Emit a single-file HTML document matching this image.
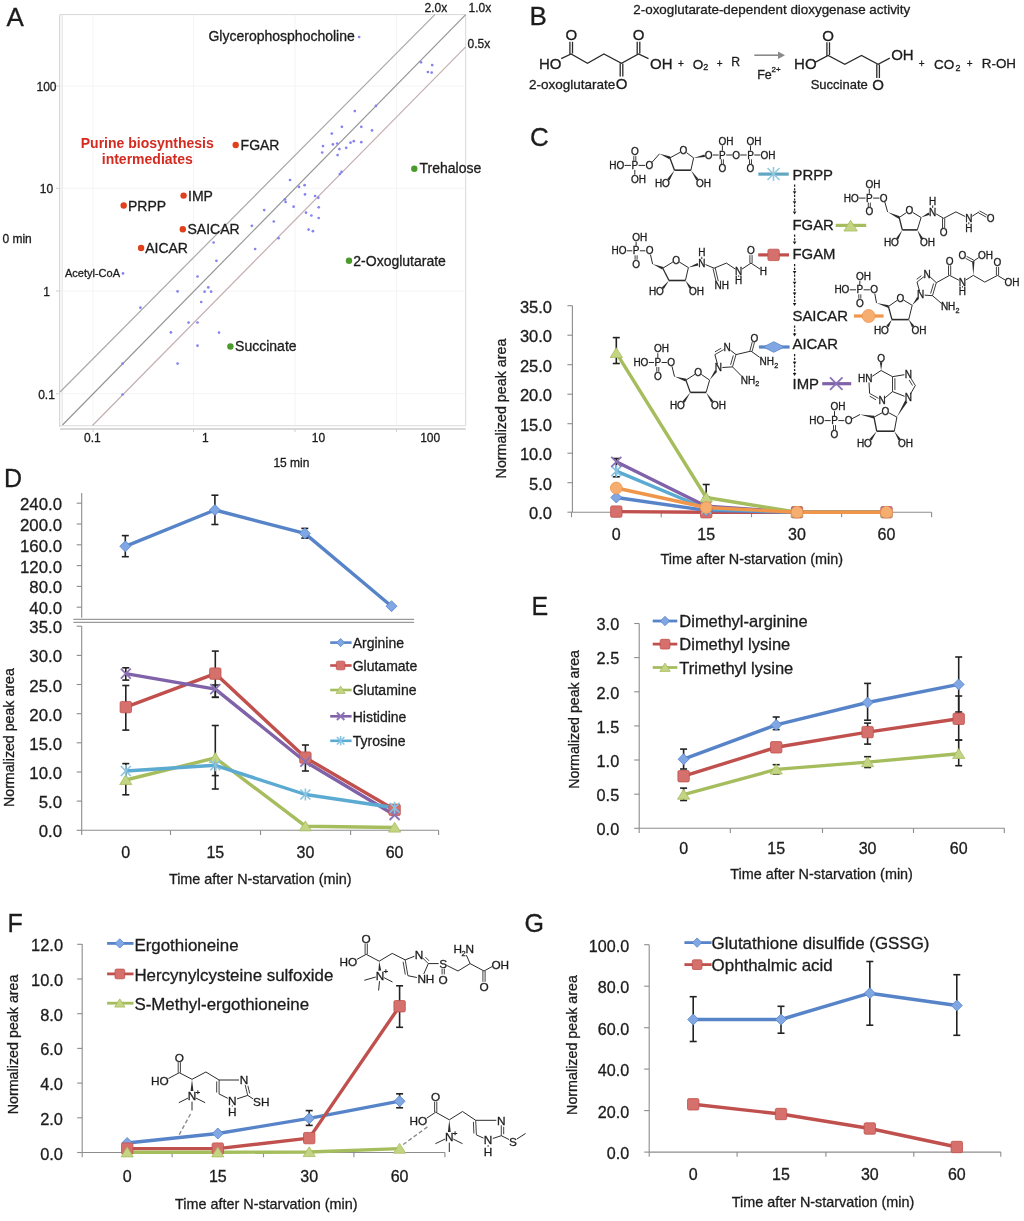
<!DOCTYPE html>
<html><head><meta charset="utf-8"><style>
html,body{margin:0;padding:0;background:#fff;}
svg{display:block;font-family:"Liberation Sans", sans-serif;filter:blur(0.4px);}
</style></head><body>
<svg width="1024" height="1221" viewBox="0 0 1024 1221">
<rect width="1024" height="1221" fill="#fff"/>
<text x="6.5" y="25.5" font-size="26" fill="#1c1c1c" stroke="#1c1c1c" stroke-width="0.3">A</text>
<line x1="93.0" y1="15.0" x2="93.0" y2="425.0" stroke="#f4f4f4" stroke-width="1"/>
<line x1="193.5" y1="15.0" x2="193.5" y2="425.0" stroke="#f4f4f4" stroke-width="1"/>
<line x1="295.0" y1="15.0" x2="295.0" y2="425.0" stroke="#f4f4f4" stroke-width="1"/>
<line x1="396.5" y1="15.0" x2="396.5" y2="425.0" stroke="#f4f4f4" stroke-width="1"/>
<line x1="60.0" y1="86.0" x2="465.5" y2="86.0" stroke="#f4f4f4" stroke-width="1"/>
<line x1="60.0" y1="188.3" x2="465.5" y2="188.3" stroke="#f4f4f4" stroke-width="1"/>
<line x1="60.0" y1="291.0" x2="465.5" y2="291.0" stroke="#f4f4f4" stroke-width="1"/>
<line x1="60.0" y1="393.7" x2="465.5" y2="393.7" stroke="#f4f4f4" stroke-width="1"/>
<line x1="60.0" y1="14.6" x2="465.7" y2="14.6" stroke="#d8d8d8" stroke-width="1"/>
<line x1="465.7" y1="14.6" x2="465.7" y2="426.0" stroke="#d8d8d8" stroke-width="1"/>
<line x1="59.7" y1="14.6" x2="59.7" y2="427.0" stroke="#cfcfcf" stroke-width="1"/>
<line x1="62.2" y1="14.6" x2="62.2" y2="425.5" stroke="#e2e2e2" stroke-width="1"/>
<line x1="60.0" y1="425.6" x2="465.7" y2="425.6" stroke="#e2e2e2" stroke-width="1.2"/>
<line x1="60.0" y1="429.0" x2="465.7" y2="429.0" stroke="#cdcdcd" stroke-width="1.6"/>
<line x1="56.0" y1="86.0" x2="59.7" y2="86.0" stroke="#cfcfcf" stroke-width="1"/>
<line x1="56.0" y1="188.3" x2="59.7" y2="188.3" stroke="#cfcfcf" stroke-width="1"/>
<line x1="56.0" y1="291.0" x2="59.7" y2="291.0" stroke="#cfcfcf" stroke-width="1"/>
<line x1="56.0" y1="393.7" x2="59.7" y2="393.7" stroke="#cfcfcf" stroke-width="1"/>
<line x1="93.0" y1="429.0" x2="93.0" y2="432.0" stroke="#cfcfcf" stroke-width="1"/>
<line x1="193.5" y1="429.0" x2="193.5" y2="432.0" stroke="#cfcfcf" stroke-width="1"/>
<line x1="295.0" y1="429.0" x2="295.0" y2="432.0" stroke="#cfcfcf" stroke-width="1"/>
<line x1="396.5" y1="429.0" x2="396.5" y2="432.0" stroke="#cfcfcf" stroke-width="1"/>
<line x1="62.5" y1="425.0" x2="465.7" y2="14.6" stroke="#969696" stroke-width="1.2"/>
<line x1="60.0" y1="392.0" x2="434.9" y2="14.6" stroke="#a9a9a9" stroke-width="1.2"/>
<line x1="92.5" y1="425.5" x2="465.7" y2="46.9" stroke="#c4aeb0" stroke-width="1.2"/>
<text x="424.6" y="12.2" font-size="12" fill="#1c1c1c" stroke="#1c1c1c" stroke-width="0.3">2.0x</text>
<text x="468.6" y="12.2" font-size="12" fill="#1c1c1c" stroke="#1c1c1c" stroke-width="0.3">1.0x</text>
<text x="467.6" y="47.9" font-size="12" fill="#1c1c1c" stroke="#1c1c1c" stroke-width="0.3">0.5x</text>
<text x="46.5" y="91.4" font-size="12" text-anchor="middle" fill="#1c1c1c" stroke="#1c1c1c" stroke-width="0.3">100</text>
<text x="46.5" y="193.3" font-size="12" text-anchor="middle" fill="#1c1c1c" stroke="#1c1c1c" stroke-width="0.3">10</text>
<text x="46.5" y="295.5" font-size="12" text-anchor="middle" fill="#1c1c1c" stroke="#1c1c1c" stroke-width="0.3">1</text>
<text x="46.5" y="398.5" font-size="12" text-anchor="middle" fill="#1c1c1c" stroke="#1c1c1c" stroke-width="0.3">0.1</text>
<text x="92.4" y="441.5" font-size="12" text-anchor="middle" fill="#1c1c1c" stroke="#1c1c1c" stroke-width="0.3">0.1</text>
<text x="205.4" y="441.5" font-size="12" text-anchor="middle" fill="#1c1c1c" stroke="#1c1c1c" stroke-width="0.3">1</text>
<text x="318.5" y="441.5" font-size="12" text-anchor="middle" fill="#1c1c1c" stroke="#1c1c1c" stroke-width="0.3">10</text>
<text x="430.2" y="441.5" font-size="12" text-anchor="middle" fill="#1c1c1c" stroke="#1c1c1c" stroke-width="0.3">100</text>
<text x="2.4" y="242.8" font-size="12" fill="#1c1c1c" stroke="#1c1c1c" stroke-width="0.3">0 min</text>
<text x="291.4" y="467.2" font-size="12" text-anchor="middle" fill="#1c1c1c" stroke="#1c1c1c" stroke-width="0.3">15 min</text>
<circle cx="421.0" cy="62.3" r="1.35" fill="#8583ee"/>
<circle cx="432.2" cy="65.1" r="1.35" fill="#8583ee"/>
<circle cx="427.9" cy="72.0" r="1.35" fill="#8583ee"/>
<circle cx="431.7" cy="72.6" r="1.35" fill="#8583ee"/>
<circle cx="375.9" cy="105.9" r="1.35" fill="#8583ee"/>
<circle cx="354.8" cy="111.1" r="1.35" fill="#8583ee"/>
<circle cx="341.9" cy="126.8" r="1.35" fill="#8583ee"/>
<circle cx="361.3" cy="126.8" r="1.35" fill="#8583ee"/>
<circle cx="372.0" cy="130.4" r="1.35" fill="#8583ee"/>
<circle cx="331.8" cy="133.6" r="1.35" fill="#8583ee"/>
<circle cx="323.0" cy="146.1" r="1.35" fill="#8583ee"/>
<circle cx="332.9" cy="144.4" r="1.35" fill="#8583ee"/>
<circle cx="337.2" cy="143.5" r="1.35" fill="#8583ee"/>
<circle cx="339.4" cy="149.1" r="1.35" fill="#8583ee"/>
<circle cx="346.2" cy="147.8" r="1.35" fill="#8583ee"/>
<circle cx="350.5" cy="142.7" r="1.35" fill="#8583ee"/>
<circle cx="353.8" cy="141.2" r="1.35" fill="#8583ee"/>
<circle cx="361.3" cy="142.2" r="1.35" fill="#8583ee"/>
<circle cx="322.2" cy="152.5" r="1.35" fill="#8583ee"/>
<circle cx="337.6" cy="155.1" r="1.35" fill="#8583ee"/>
<circle cx="341.5" cy="171.9" r="1.35" fill="#8583ee"/>
<circle cx="339.8" cy="174.0" r="1.35" fill="#8583ee"/>
<circle cx="290.0" cy="180.0" r="1.35" fill="#8583ee"/>
<circle cx="299.0" cy="186.9" r="1.35" fill="#8583ee"/>
<circle cx="304.6" cy="185.2" r="1.35" fill="#8583ee"/>
<circle cx="305.0" cy="194.4" r="1.35" fill="#8583ee"/>
<circle cx="315.1" cy="196.0" r="1.35" fill="#8583ee"/>
<circle cx="318.3" cy="197.7" r="1.35" fill="#8583ee"/>
<circle cx="285.0" cy="199.4" r="1.35" fill="#8583ee"/>
<circle cx="285.6" cy="202.0" r="1.35" fill="#8583ee"/>
<circle cx="293.6" cy="206.7" r="1.35" fill="#8583ee"/>
<circle cx="318.7" cy="207.3" r="1.35" fill="#8583ee"/>
<circle cx="264.2" cy="210.1" r="1.35" fill="#8583ee"/>
<circle cx="306.0" cy="212.7" r="1.35" fill="#8583ee"/>
<circle cx="311.4" cy="215.5" r="1.35" fill="#8583ee"/>
<circle cx="318.7" cy="218.0" r="1.35" fill="#8583ee"/>
<circle cx="273.8" cy="221.5" r="1.35" fill="#8583ee"/>
<circle cx="251.9" cy="225.8" r="1.35" fill="#8583ee"/>
<circle cx="308.6" cy="229.6" r="1.35" fill="#8583ee"/>
<circle cx="312.9" cy="231.2" r="1.35" fill="#8583ee"/>
<circle cx="213.6" cy="242.5" r="1.35" fill="#8583ee"/>
<circle cx="278.5" cy="238.2" r="1.35" fill="#8583ee"/>
<circle cx="255.1" cy="249.0" r="1.35" fill="#8583ee"/>
<circle cx="216.4" cy="260.8" r="1.35" fill="#8583ee"/>
<circle cx="197.5" cy="276.5" r="1.35" fill="#8583ee"/>
<circle cx="208.3" cy="287.4" r="1.35" fill="#8583ee"/>
<circle cx="204.6" cy="291.7" r="1.35" fill="#8583ee"/>
<circle cx="211.1" cy="291.7" r="1.35" fill="#8583ee"/>
<circle cx="201.2" cy="302.0" r="1.35" fill="#8583ee"/>
<circle cx="197.5" cy="322.5" r="1.35" fill="#8583ee"/>
<circle cx="219.0" cy="332.6" r="1.35" fill="#8583ee"/>
<circle cx="197.5" cy="345.7" r="1.35" fill="#8583ee"/>
<circle cx="177.6" cy="291.4" r="1.35" fill="#8583ee"/>
<circle cx="140.4" cy="307.7" r="1.35" fill="#8583ee"/>
<circle cx="188.6" cy="322.6" r="1.35" fill="#8583ee"/>
<circle cx="170.9" cy="332.4" r="1.35" fill="#8583ee"/>
<circle cx="122.6" cy="363.6" r="1.35" fill="#8583ee"/>
<circle cx="177.6" cy="363.6" r="1.35" fill="#8583ee"/>
<circle cx="122.6" cy="394.5" r="1.35" fill="#8583ee"/>
<circle cx="359.1" cy="37.0" r="1.35" fill="#8583ee"/>
<circle cx="123.0" cy="273.4" r="1.35" fill="#8583ee"/>
<circle cx="235.7" cy="145.0" r="3.2" fill="#e0401c"/>
<text x="240.6" y="150.2" font-size="14" fill="#1c1c1c" stroke="#1c1c1c" stroke-width="0.3">FGAR</text>
<circle cx="183.6" cy="195.6" r="3.2" fill="#e0401c"/>
<text x="188.0" y="201.0" font-size="14" fill="#1c1c1c" stroke="#1c1c1c" stroke-width="0.3">IMP</text>
<circle cx="123.7" cy="205.5" r="3.2" fill="#e0401c"/>
<text x="128.0" y="210.6" font-size="14" fill="#1c1c1c" stroke="#1c1c1c" stroke-width="0.3">PRPP</text>
<circle cx="182.8" cy="229.3" r="3.2" fill="#e0401c"/>
<text x="187.5" y="234.2" font-size="14" fill="#1c1c1c" stroke="#1c1c1c" stroke-width="0.3">SAICAR</text>
<circle cx="141.1" cy="248.0" r="3.2" fill="#e0401c"/>
<text x="145.2" y="253.4" font-size="14" fill="#1c1c1c" stroke="#1c1c1c" stroke-width="0.3">AICAR</text>
<circle cx="414.3" cy="168.7" r="3.2" fill="#4b9a2c"/>
<text x="419.5" y="172.8" font-size="14" fill="#1c1c1c" stroke="#1c1c1c" stroke-width="0.3">Trehalose</text>
<circle cx="349.0" cy="260.8" r="3.2" fill="#4b9a2c"/>
<text x="353.3" y="265.5" font-size="14" fill="#1c1c1c" stroke="#1c1c1c" stroke-width="0.3">2-Oxoglutarate</text>
<circle cx="230.4" cy="346.5" r="3.2" fill="#4b9a2c"/>
<text x="235.1" y="350.8" font-size="14" fill="#1c1c1c" stroke="#1c1c1c" stroke-width="0.3">Succinate</text>
<text x="354.8" y="40.8" font-size="14" text-anchor="end" fill="#1c1c1c" stroke="#1c1c1c" stroke-width="0.3">Glycerophosphocholine</text>
<text x="120.0" y="277.0" font-size="11" text-anchor="end" fill="#1c1c1c" stroke="#1c1c1c" stroke-width="0.3">Acetyl-CoA</text>
<text x="147.3" y="148.4" font-size="14" text-anchor="middle" fill="#d42a20" font-weight="bold">Purine biosynthesis</text>
<text x="147.3" y="164.2" font-size="14" text-anchor="middle" fill="#d42a20" font-weight="bold">intermediates</text>
<text x="529.5" y="25.4" font-size="26" fill="#1c1c1c" stroke="#1c1c1c" stroke-width="0.3">B</text>
<text x="633.3" y="13.6" font-size="13.4" fill="#1c1c1c" stroke="#1c1c1c" stroke-width="0.3">2-oxoglutarate-dependent dioxygenase activity</text>
<text x="538.9" y="68.5" font-size="15" fill="#1c1c1c" stroke="#1c1c1c" stroke-width="0.3">HO</text>
<polyline points="561.2,58.6 571.1,53.9 587.5,63.3 603.9,53.9 621.5,63.3 638.5,53.9 648.5,58.6" stroke="#2a2a2a" stroke-width="1.3" fill="none"/>
<line x1="569.9" y1="41.8" x2="569.9" y2="54.5" stroke="#2a2a2a" stroke-width="1.3"/>
<line x1="572.5" y1="41.8" x2="572.5" y2="53.5" stroke="#2a2a2a" stroke-width="1.3"/>
<text x="571.3" y="39.8" font-size="15" text-anchor="middle" fill="#1c1c1c" stroke="#1c1c1c" stroke-width="0.3">O</text>
<line x1="620.2" y1="63.3" x2="620.2" y2="76.5" stroke="#2a2a2a" stroke-width="1.3"/>
<line x1="622.8" y1="63.5" x2="622.8" y2="76.5" stroke="#2a2a2a" stroke-width="1.3"/>
<text x="621.5" y="89.0" font-size="15" text-anchor="middle" fill="#1c1c1c" stroke="#1c1c1c" stroke-width="0.3">O</text>
<line x1="637.2" y1="41.8" x2="637.2" y2="54.5" stroke="#2a2a2a" stroke-width="1.3"/>
<line x1="639.8" y1="41.8" x2="639.8" y2="53.5" stroke="#2a2a2a" stroke-width="1.3"/>
<text x="638.5" y="39.8" font-size="15" text-anchor="middle" fill="#1c1c1c" stroke="#1c1c1c" stroke-width="0.3">O</text>
<text x="650.0" y="68.7" font-size="15" fill="#1c1c1c" stroke="#1c1c1c" stroke-width="0.3">OH</text>
<text x="681.0" y="66.5" font-size="10" text-anchor="middle" fill="#1c1c1c" stroke="#1c1c1c" stroke-width="0.3">+</text>
<text x="692.7" y="68.7" font-size="13.5" fill="#1c1c1c" stroke="#1c1c1c" stroke-width="0.3">O</text>
<text x="703.3" y="70.0" font-size="9" fill="#1c1c1c" stroke="#1c1c1c" stroke-width="0.3">2</text>
<text x="719.7" y="66.5" font-size="10" text-anchor="middle" fill="#1c1c1c" stroke="#1c1c1c" stroke-width="0.3">+</text>
<text x="731.2" y="66.3" font-size="12.2" fill="#1c1c1c" stroke="#1c1c1c" stroke-width="0.3">R</text>
<text x="528.9" y="88.5" font-size="13.5" fill="#1c1c1c" stroke="#1c1c1c" stroke-width="0.3">2-oxoglutarate</text>
<line x1="754.3" y1="55.2" x2="781.0" y2="55.2" stroke="#8a8a8a" stroke-width="1.6"/>
<polygon points="785.0,55.2 778.0,51.5 778.0,58.9" fill="#8a8a8a" stroke="none" stroke-width="1"/>
<text x="757.2" y="78.5" font-size="12.5" fill="#1c1c1c" stroke="#1c1c1c" stroke-width="0.3">Fe</text>
<text x="771.5" y="72.0" font-size="8" fill="#1c1c1c" stroke="#1c1c1c" stroke-width="0.3">2+</text>
<text x="794.1" y="69.3" font-size="15" fill="#1c1c1c" stroke="#1c1c1c" stroke-width="0.3">HO</text>
<polyline points="815.0,62.4 828.2,55.5 844.8,64.3 861.5,55.5 878.1,64.3 889.8,58.2" stroke="#2a2a2a" stroke-width="1.3" fill="none"/>
<line x1="826.9" y1="42.3" x2="826.9" y2="56.0" stroke="#2a2a2a" stroke-width="1.3"/>
<line x1="829.5" y1="42.3" x2="829.5" y2="55.0" stroke="#2a2a2a" stroke-width="1.3"/>
<text x="828.2" y="41.3" font-size="15" text-anchor="middle" fill="#1c1c1c" stroke="#1c1c1c" stroke-width="0.3">O</text>
<line x1="876.8" y1="64.3" x2="876.8" y2="78.0" stroke="#2a2a2a" stroke-width="1.3"/>
<line x1="879.4" y1="64.5" x2="879.4" y2="78.0" stroke="#2a2a2a" stroke-width="1.3"/>
<text x="878.1" y="90.0" font-size="15" text-anchor="middle" fill="#1c1c1c" stroke="#1c1c1c" stroke-width="0.3">O</text>
<text x="891.2" y="60.0" font-size="15" fill="#1c1c1c" stroke="#1c1c1c" stroke-width="0.3">OH</text>
<text x="921.7" y="67.0" font-size="10" text-anchor="middle" fill="#1c1c1c" stroke="#1c1c1c" stroke-width="0.3">+</text>
<text x="934.1" y="69.0" font-size="13.5" fill="#1c1c1c" stroke="#1c1c1c" stroke-width="0.3">CO</text>
<text x="955.5" y="71.0" font-size="9" fill="#1c1c1c" stroke="#1c1c1c" stroke-width="0.3">2</text>
<text x="969.6" y="67.0" font-size="10" text-anchor="middle" fill="#1c1c1c" stroke="#1c1c1c" stroke-width="0.3">+</text>
<text x="981.8" y="68.0" font-size="13.4" fill="#1c1c1c" stroke="#1c1c1c" stroke-width="0.3">R-OH</text>
<text x="810.7" y="89.3" font-size="13" fill="#1c1c1c" stroke="#1c1c1c" stroke-width="0.3">Succinate</text>
<line x1="572.4" y1="305.7" x2="572.4" y2="512.2" stroke="#8c8c8c" stroke-width="1.1"/>
<line x1="572.4" y1="512.2" x2="931.6" y2="512.2" stroke="#8c8c8c" stroke-width="1.1"/>
<line x1="567.4" y1="512.2" x2="572.4" y2="512.2" stroke="#8c8c8c" stroke-width="1.1"/>
<text x="552.0" y="519.0" font-size="16.5" text-anchor="end" fill="#1c1c1c" stroke="#1c1c1c" stroke-width="0.3">0.0</text>
<line x1="567.4" y1="482.7" x2="572.4" y2="482.7" stroke="#8c8c8c" stroke-width="1.1"/>
<text x="552.0" y="489.5" font-size="16.5" text-anchor="end" fill="#1c1c1c" stroke="#1c1c1c" stroke-width="0.3">5.0</text>
<line x1="567.4" y1="453.2" x2="572.4" y2="453.2" stroke="#8c8c8c" stroke-width="1.1"/>
<text x="552.0" y="460.0" font-size="16.5" text-anchor="end" fill="#1c1c1c" stroke="#1c1c1c" stroke-width="0.3">10.0</text>
<line x1="567.4" y1="423.7" x2="572.4" y2="423.7" stroke="#8c8c8c" stroke-width="1.1"/>
<text x="552.0" y="430.5" font-size="16.5" text-anchor="end" fill="#1c1c1c" stroke="#1c1c1c" stroke-width="0.3">15.0</text>
<line x1="567.4" y1="394.2" x2="572.4" y2="394.2" stroke="#8c8c8c" stroke-width="1.1"/>
<text x="552.0" y="401.0" font-size="16.5" text-anchor="end" fill="#1c1c1c" stroke="#1c1c1c" stroke-width="0.3">20.0</text>
<line x1="567.4" y1="364.7" x2="572.4" y2="364.7" stroke="#8c8c8c" stroke-width="1.1"/>
<text x="552.0" y="371.5" font-size="16.5" text-anchor="end" fill="#1c1c1c" stroke="#1c1c1c" stroke-width="0.3">25.0</text>
<line x1="567.4" y1="335.2" x2="572.4" y2="335.2" stroke="#8c8c8c" stroke-width="1.1"/>
<text x="552.0" y="342.0" font-size="16.5" text-anchor="end" fill="#1c1c1c" stroke="#1c1c1c" stroke-width="0.3">30.0</text>
<line x1="567.4" y1="305.7" x2="572.4" y2="305.7" stroke="#8c8c8c" stroke-width="1.1"/>
<text x="552.0" y="312.5" font-size="16.5" text-anchor="end" fill="#1c1c1c" stroke="#1c1c1c" stroke-width="0.3">35.0</text>
<line x1="571.5" y1="512.2" x2="571.5" y2="517.2" stroke="#8c8c8c" stroke-width="1.1"/>
<line x1="661.2" y1="512.2" x2="661.2" y2="517.2" stroke="#8c8c8c" stroke-width="1.1"/>
<line x1="751.5" y1="512.2" x2="751.5" y2="517.2" stroke="#8c8c8c" stroke-width="1.1"/>
<line x1="841.6" y1="512.2" x2="841.6" y2="517.2" stroke="#8c8c8c" stroke-width="1.1"/>
<line x1="931.6" y1="512.2" x2="931.6" y2="517.2" stroke="#8c8c8c" stroke-width="1.1"/>
<text x="616.3" y="539.5" font-size="16" text-anchor="middle" fill="#1c1c1c" stroke="#1c1c1c" stroke-width="0.3">0</text>
<text x="706.2" y="539.5" font-size="16" text-anchor="middle" fill="#1c1c1c" stroke="#1c1c1c" stroke-width="0.3">15</text>
<text x="797.0" y="539.5" font-size="16" text-anchor="middle" fill="#1c1c1c" stroke="#1c1c1c" stroke-width="0.3">30</text>
<text x="886.5" y="539.5" font-size="16" text-anchor="middle" fill="#1c1c1c" stroke="#1c1c1c" stroke-width="0.3">60</text>
<text x="751.8" y="563.5" font-size="14.4" text-anchor="middle" fill="#1c1c1c" stroke="#1c1c1c" stroke-width="0.3">Time after N-starvation (min)</text>
<text x="0.0" y="0.0" font-size="14.3" text-anchor="middle" fill="#1c1c1c" stroke="#1c1c1c" stroke-width="0.3" transform="translate(506.3,408.5) rotate(-90)">Normalized peak area</text>
<polyline points="616.3,511.6 706.2,512.2 797.0,512.2 886.5,512.2" stroke="#c0504d" stroke-width="3.4" fill="none" stroke-linejoin="round"/>
<polyline points="616.3,497.5 706.2,510.4 797.0,512.2 886.5,512.2" stroke="#5784c8" stroke-width="3.4" fill="none" stroke-linejoin="round"/>
<polyline points="616.3,471.1 706.2,508.7 797.0,512.2 886.5,512.2" stroke="#5aaad2" stroke-width="3.4" fill="none" stroke-linejoin="round"/>
<polyline points="616.3,461.8 706.2,506.3 797.0,512.2 886.5,512.2" stroke="#7f62a8" stroke-width="3.4" fill="none" stroke-linejoin="round"/>
<polyline points="616.3,352.9 706.2,497.5 797.0,512.2 886.5,512.2" stroke="#a6bd5e" stroke-width="3.4" fill="none" stroke-linejoin="round"/>
<polyline points="616.3,488.0 706.2,507.5 797.0,512.2 886.5,512.2" stroke="#f0964a" stroke-width="3.4" fill="none" stroke-linejoin="round"/>
<line x1="616.3" y1="337.6" x2="616.3" y2="363.5" stroke="#222" stroke-width="1.6"/>
<line x1="612.8" y1="337.6" x2="619.8" y2="337.6" stroke="#222" stroke-width="1.6"/>
<line x1="612.8" y1="363.5" x2="619.8" y2="363.5" stroke="#222" stroke-width="1.6"/>
<line x1="616.3" y1="458.5" x2="616.3" y2="476.8" stroke="#222" stroke-width="1.6"/>
<line x1="612.8" y1="458.5" x2="619.8" y2="458.5" stroke="#222" stroke-width="1.6"/>
<line x1="612.8" y1="476.8" x2="619.8" y2="476.8" stroke="#222" stroke-width="1.6"/>
<line x1="706.2" y1="484.5" x2="706.2" y2="497.5" stroke="#222" stroke-width="1.6"/>
<line x1="702.7" y1="484.5" x2="709.7" y2="484.5" stroke="#222" stroke-width="1.6"/>
<line x1="702.7" y1="497.5" x2="709.7" y2="497.5" stroke="#222" stroke-width="1.6"/>
<rect x="610.6" y="505.9" width="11.4" height="11.4" rx="1.5" fill="#d5706c" stroke="#c0504d" stroke-width="0.8"/>
<rect x="700.5" y="506.5" width="11.4" height="11.4" rx="1.5" fill="#d5706c" stroke="#c0504d" stroke-width="0.8"/>
<rect x="791.3" y="506.5" width="11.4" height="11.4" rx="1.5" fill="#d5706c" stroke="#c0504d" stroke-width="0.8"/>
<rect x="880.8" y="506.5" width="11.4" height="11.4" rx="1.5" fill="#d5706c" stroke="#c0504d" stroke-width="0.8"/>
<polygon points="610.8,497.5 616.3,492.0 621.8,497.5 616.3,503.0" fill="#80a6e4" stroke="#5784c8" stroke-width="0.8"/>
<polygon points="700.7,510.4 706.2,504.9 711.7,510.4 706.2,515.9" fill="#80a6e4" stroke="#5784c8" stroke-width="0.8"/>
<polygon points="791.5,512.2 797.0,506.7 802.5,512.2 797.0,517.7" fill="#80a6e4" stroke="#5784c8" stroke-width="0.8"/>
<polygon points="881.0,512.2 886.5,506.7 892.0,512.2 886.5,517.7" fill="#80a6e4" stroke="#5784c8" stroke-width="0.8"/>
<line x1="611.3" y1="466.1" x2="621.3" y2="476.1" stroke="#86c4e2" stroke-width="1.6"/>
<line x1="611.3" y1="476.1" x2="621.3" y2="466.1" stroke="#86c4e2" stroke-width="1.6"/>
<line x1="616.3" y1="465.1" x2="616.3" y2="477.1" stroke="#86c4e2" stroke-width="1.6"/>
<line x1="701.2" y1="503.7" x2="711.2" y2="513.7" stroke="#86c4e2" stroke-width="1.6"/>
<line x1="701.2" y1="513.7" x2="711.2" y2="503.7" stroke="#86c4e2" stroke-width="1.6"/>
<line x1="706.2" y1="502.7" x2="706.2" y2="514.7" stroke="#86c4e2" stroke-width="1.6"/>
<line x1="792.0" y1="507.2" x2="802.0" y2="517.2" stroke="#86c4e2" stroke-width="1.6"/>
<line x1="792.0" y1="517.2" x2="802.0" y2="507.2" stroke="#86c4e2" stroke-width="1.6"/>
<line x1="797.0" y1="506.2" x2="797.0" y2="518.2" stroke="#86c4e2" stroke-width="1.6"/>
<line x1="881.5" y1="507.2" x2="891.5" y2="517.2" stroke="#86c4e2" stroke-width="1.6"/>
<line x1="881.5" y1="517.2" x2="891.5" y2="507.2" stroke="#86c4e2" stroke-width="1.6"/>
<line x1="886.5" y1="506.2" x2="886.5" y2="518.2" stroke="#86c4e2" stroke-width="1.6"/>
<line x1="611.3" y1="456.8" x2="621.3" y2="466.8" stroke="#8b72b6" stroke-width="1.8"/>
<line x1="611.3" y1="466.8" x2="621.3" y2="456.8" stroke="#8b72b6" stroke-width="1.8"/>
<line x1="701.2" y1="501.3" x2="711.2" y2="511.3" stroke="#8b72b6" stroke-width="1.8"/>
<line x1="701.2" y1="511.3" x2="711.2" y2="501.3" stroke="#8b72b6" stroke-width="1.8"/>
<line x1="792.0" y1="507.2" x2="802.0" y2="517.2" stroke="#8b72b6" stroke-width="1.8"/>
<line x1="792.0" y1="517.2" x2="802.0" y2="507.2" stroke="#8b72b6" stroke-width="1.8"/>
<line x1="881.5" y1="507.2" x2="891.5" y2="517.2" stroke="#8b72b6" stroke-width="1.8"/>
<line x1="881.5" y1="517.2" x2="891.5" y2="507.2" stroke="#8b72b6" stroke-width="1.8"/>
<polygon points="610.2,357.5 616.3,347.7 622.4,357.5" fill="#c3d583" stroke="#a6bd5e" stroke-width="0.8"/>
<polygon points="700.1,502.0 706.2,492.3 712.3,502.0" fill="#c3d583" stroke="#a6bd5e" stroke-width="0.8"/>
<polygon points="790.9,516.8 797.0,507.0 803.1,516.8" fill="#c3d583" stroke="#a6bd5e" stroke-width="0.8"/>
<polygon points="880.4,516.8 886.5,507.0 892.6,516.8" fill="#c3d583" stroke="#a6bd5e" stroke-width="0.8"/>
<circle cx="616.3" cy="488.0" r="5.9" fill="#f5ae70" stroke="#f0964a" stroke-width="0.8"/>
<circle cx="706.2" cy="507.5" r="5.9" fill="#f5ae70" stroke="#f0964a" stroke-width="0.8"/>
<circle cx="797.0" cy="512.2" r="5.9" fill="#f5ae70" stroke="#f0964a" stroke-width="0.8"/>
<circle cx="886.5" cy="512.2" r="5.9" fill="#f5ae70" stroke="#f0964a" stroke-width="0.8"/>
<text x="530.0" y="145.5" font-size="26" fill="#1c1c1c" stroke="#1c1c1c" stroke-width="0.3">C</text>
<text x="792.5" y="179.5" font-size="14.9" fill="#1c1c1c" stroke="#1c1c1c" stroke-width="0.3">PRPP</text>
<text x="792.5" y="229.7" font-size="14.9" fill="#1c1c1c" stroke="#1c1c1c" stroke-width="0.3">FGAR</text>
<text x="792.5" y="258.7" font-size="14.9" fill="#1c1c1c" stroke="#1c1c1c" stroke-width="0.3">FGAM</text>
<text x="792.5" y="320.8" font-size="14.9" fill="#1c1c1c" stroke="#1c1c1c" stroke-width="0.3">SAICAR</text>
<text x="792.5" y="349.3" font-size="14.9" fill="#1c1c1c" stroke="#1c1c1c" stroke-width="0.3">AICAR</text>
<text x="792.5" y="389.0" font-size="14.9" fill="#1c1c1c" stroke="#1c1c1c" stroke-width="0.3">IMP</text>
<line x1="794.6" y1="184.5" x2="794.6" y2="191.7" stroke="#222" stroke-width="1.3" stroke-dasharray="2.2,1.5"/>
<polygon points="792.8,191.2 796.4,191.2 794.6,194.2" fill="#1a1a1a" stroke="none" stroke-width="1"/>
<line x1="794.6" y1="194.7" x2="794.6" y2="201.8" stroke="#222" stroke-width="1.3" stroke-dasharray="2.2,1.5"/>
<polygon points="792.8,201.3 796.4,201.3 794.6,204.3" fill="#1a1a1a" stroke="none" stroke-width="1"/>
<line x1="794.6" y1="204.8" x2="794.6" y2="212.0" stroke="#222" stroke-width="1.3" stroke-dasharray="2.2,1.5"/>
<polygon points="792.8,211.5 796.4,211.5 794.6,214.5" fill="#1a1a1a" stroke="none" stroke-width="1"/>
<line x1="794.6" y1="234.5" x2="794.6" y2="242.0" stroke="#222" stroke-width="1.3" stroke-dasharray="2.2,1.5"/>
<polygon points="792.8,241.5 796.4,241.5 794.6,244.5" fill="#1a1a1a" stroke="none" stroke-width="1"/>
<line x1="794.6" y1="264.0" x2="794.6" y2="271.6" stroke="#222" stroke-width="1.3" stroke-dasharray="2.2,1.5"/>
<polygon points="792.8,271.1 796.4,271.1 794.6,274.1" fill="#1a1a1a" stroke="none" stroke-width="1"/>
<line x1="794.6" y1="274.6" x2="794.6" y2="282.2" stroke="#222" stroke-width="1.3" stroke-dasharray="2.2,1.5"/>
<polygon points="792.8,281.8 796.4,281.8 794.6,284.8" fill="#1a1a1a" stroke="none" stroke-width="1"/>
<line x1="794.6" y1="285.2" x2="794.6" y2="292.9" stroke="#222" stroke-width="1.3" stroke-dasharray="2.2,1.5"/>
<polygon points="792.8,292.4 796.4,292.4 794.6,295.4" fill="#1a1a1a" stroke="none" stroke-width="1"/>
<line x1="794.6" y1="295.9" x2="794.6" y2="303.5" stroke="#222" stroke-width="1.3" stroke-dasharray="2.2,1.5"/>
<polygon points="792.8,303.0 796.4,303.0 794.6,306.0" fill="#1a1a1a" stroke="none" stroke-width="1"/>
<line x1="794.6" y1="325.5" x2="794.6" y2="334.0" stroke="#222" stroke-width="1.3" stroke-dasharray="2.2,1.5"/>
<polygon points="792.8,333.5 796.4,333.5 794.6,336.5" fill="#1a1a1a" stroke="none" stroke-width="1"/>
<line x1="794.6" y1="354.0" x2="794.6" y2="362.2" stroke="#222" stroke-width="1.3" stroke-dasharray="2.2,1.5"/>
<polygon points="792.8,361.8 796.4,361.8 794.6,364.8" fill="#1a1a1a" stroke="none" stroke-width="1"/>
<line x1="794.6" y1="365.2" x2="794.6" y2="373.5" stroke="#222" stroke-width="1.3" stroke-dasharray="2.2,1.5"/>
<polygon points="792.8,373.0 796.4,373.0 794.6,376.0" fill="#1a1a1a" stroke="none" stroke-width="1"/>
<line x1="758.3" y1="174.1" x2="788.7" y2="174.1" stroke="#62a6c2" stroke-width="3.2"/>
<line x1="767.5" y1="168.0" x2="779.5" y2="180.0" stroke="#93c8de" stroke-width="1.6"/>
<line x1="767.5" y1="180.0" x2="779.5" y2="168.0" stroke="#93c8de" stroke-width="1.6"/>
<line x1="773.5" y1="167.0" x2="773.5" y2="181.0" stroke="#93c8de" stroke-width="1.6"/>
<line x1="835.7" y1="225.4" x2="866.2" y2="225.4" stroke="#a6bd5e" stroke-width="3.2"/>
<polygon points="843.9,231.0 850.6,220.3 857.3,231.0" fill="#c3d583" stroke="#a6bd5e" stroke-width="0.8"/>
<line x1="758.2" y1="254.9" x2="789.0" y2="254.9" stroke="#c0504d" stroke-width="3.2"/>
<rect x="767.9" y="249.2" width="11.4" height="11.4" rx="1.5" fill="#d5706c" stroke="#c0504d" stroke-width="0.8"/>
<line x1="853.9" y1="316.0" x2="883.6" y2="316.0" stroke="#f0964a" stroke-width="3.2"/>
<circle cx="868.6" cy="316.0" r="6.490000000000001" fill="#f5ae70" stroke="#f0964a" stroke-width="0.8"/>
<line x1="758.9" y1="347.0" x2="789.6" y2="347.0" stroke="#5784c8" stroke-width="3.2"/>
<polygon points="763.3,347.0 773.8,341.7 784.3,347.0 773.8,352.3" fill="#80a6e4" stroke="#5784c8" stroke-width="0.8"/>
<line x1="822.2" y1="383.7" x2="851.2" y2="383.7" stroke="#7f62a8" stroke-width="3.2"/>
<line x1="830.0" y1="377.4" x2="842.5" y2="389.9" stroke="#8b72b6" stroke-width="1.8"/>
<line x1="830.0" y1="389.9" x2="842.5" y2="377.4" stroke="#8b72b6" stroke-width="1.8"/>
<text x="609.2" y="169.0" font-size="10" fill="#1c1c1c" stroke="#1c1c1c" stroke-width="0.3">HO</text>
<text x="631.5" y="169.0" font-size="10" fill="#1c1c1c" stroke="#1c1c1c" stroke-width="0.3">P</text>
<text x="645.4" y="169.0" font-size="10" fill="#1c1c1c" stroke="#1c1c1c" stroke-width="0.3">O</text>
<line x1="624.5" y1="165.4" x2="631.0" y2="165.4" stroke="#2b2b2b" stroke-width="1.0"/>
<line x1="638.6" y1="165.4" x2="645.1" y2="165.4" stroke="#2b2b2b" stroke-width="1.0"/>
<text x="630.9" y="155.2" font-size="10" fill="#1c1c1c" stroke="#1c1c1c" stroke-width="0.3">O</text>
<line x1="635.8" y1="156.1" x2="635.8" y2="160.9" stroke="#2b2b2b" stroke-width="0.9"/>
<line x1="633.8" y1="156.1" x2="633.8" y2="160.9" stroke="#2b2b2b" stroke-width="0.9"/>
<text x="630.9" y="182.8" font-size="10" fill="#1c1c1c" stroke="#1c1c1c" stroke-width="0.3">OH</text>
<line x1="634.8" y1="169.9" x2="634.8" y2="174.7" stroke="#2b2b2b" stroke-width="1.0"/>
<line x1="651.9" y1="162.4" x2="659.5" y2="153.8" stroke="#2b2b2b" stroke-width="1.0"/>
<polygon points="659.5,153.8 669.4,159.2 670.4,156.6" fill="#2b2b2b" stroke="none" stroke-width="1"/>
<line x1="669.9" y1="157.9" x2="680.2" y2="152.3" stroke="#2b2b2b" stroke-width="1.0"/>
<line x1="686.6" y1="152.7" x2="693.6" y2="157.9" stroke="#2b2b2b" stroke-width="1.0"/>
<line x1="693.6" y1="157.9" x2="690.9" y2="170.2" stroke="#2b2b2b" stroke-width="1.0"/>
<line x1="690.9" y1="170.2" x2="674.5" y2="170.2" stroke="#2b2b2b" stroke-width="1.6"/>
<line x1="674.5" y1="170.2" x2="669.9" y2="157.9" stroke="#2b2b2b" stroke-width="1.3"/>
<polygon points="674.5,170.2 667.3,179.0 669.5,180.4" fill="#2b2b2b" stroke="none" stroke-width="1"/>
<polygon points="690.9,170.2 696.4,180.5 698.5,179.1" fill="#2b2b2b" stroke="none" stroke-width="1"/>
<text x="654.9" y="187.1" font-size="10" fill="#1c1c1c" stroke="#1c1c1c" stroke-width="0.3">HO</text>
<text x="696.1" y="187.1" font-size="10" fill="#1c1c1c" stroke="#1c1c1c" stroke-width="0.3">OH</text>
<text x="679.6" y="154.1" font-size="10" fill="#1c1c1c" stroke="#1c1c1c" stroke-width="0.3">O</text>
<polygon points="693.6,157.9 705.0,157.0 704.5,154.5" fill="#2b2b2b" stroke="none" stroke-width="1"/>
<text x="704.8" y="158.6" font-size="10" fill="#1c1c1c" stroke="#1c1c1c" stroke-width="0.3">O</text>
<text x="719.1" y="158.6" font-size="10" fill="#1c1c1c" stroke="#1c1c1c" stroke-width="0.3">P</text>
<text x="732.3" y="158.6" font-size="10" fill="#1c1c1c" stroke="#1c1c1c" stroke-width="0.3">O</text>
<text x="747.2" y="158.6" font-size="10" fill="#1c1c1c" stroke="#1c1c1c" stroke-width="0.3">P</text>
<text x="760.6" y="158.6" font-size="10" fill="#1c1c1c" stroke="#1c1c1c" stroke-width="0.3">OH</text>
<line x1="712.7" y1="155.0" x2="718.6" y2="155.0" stroke="#2b2b2b" stroke-width="1.0"/>
<line x1="726.2" y1="155.0" x2="732.2" y2="155.0" stroke="#2b2b2b" stroke-width="1.0"/>
<line x1="740.2" y1="155.0" x2="746.7" y2="155.0" stroke="#2b2b2b" stroke-width="1.0"/>
<line x1="754.3" y1="155.0" x2="760.3" y2="155.0" stroke="#2b2b2b" stroke-width="1.0"/>
<text x="718.5" y="144.9" font-size="10" fill="#1c1c1c" stroke="#1c1c1c" stroke-width="0.3">OH</text>
<line x1="722.4" y1="145.6" x2="722.4" y2="150.7" stroke="#2b2b2b" stroke-width="1.0"/>
<text x="718.5" y="172.3" font-size="10" fill="#1c1c1c" stroke="#1c1c1c" stroke-width="0.3">O</text>
<line x1="723.4" y1="159.3" x2="723.4" y2="164.4" stroke="#2b2b2b" stroke-width="0.9"/>
<line x1="721.4" y1="159.3" x2="721.4" y2="164.4" stroke="#2b2b2b" stroke-width="0.9"/>
<text x="746.6" y="144.9" font-size="10" fill="#1c1c1c" stroke="#1c1c1c" stroke-width="0.3">OH</text>
<line x1="750.5" y1="145.6" x2="750.5" y2="150.7" stroke="#2b2b2b" stroke-width="1.0"/>
<text x="746.6" y="172.3" font-size="10" fill="#1c1c1c" stroke="#1c1c1c" stroke-width="0.3">O</text>
<line x1="751.5" y1="159.3" x2="751.5" y2="164.4" stroke="#2b2b2b" stroke-width="0.9"/>
<line x1="749.5" y1="159.3" x2="749.5" y2="164.4" stroke="#2b2b2b" stroke-width="0.9"/>
<text x="843.8" y="201.7" font-size="10" fill="#1c1c1c" stroke="#1c1c1c" stroke-width="0.3">HO</text>
<text x="866.0" y="201.7" font-size="10" fill="#1c1c1c" stroke="#1c1c1c" stroke-width="0.3">P</text>
<text x="879.8" y="201.7" font-size="10" fill="#1c1c1c" stroke="#1c1c1c" stroke-width="0.3">O</text>
<line x1="859.1" y1="198.1" x2="865.5" y2="198.1" stroke="#2b2b2b" stroke-width="1.0"/>
<line x1="873.1" y1="198.1" x2="879.5" y2="198.1" stroke="#2b2b2b" stroke-width="1.0"/>
<text x="865.4" y="188.1" font-size="10" fill="#1c1c1c" stroke="#1c1c1c" stroke-width="0.3">OH</text>
<line x1="869.3" y1="189.0" x2="869.3" y2="193.6" stroke="#2b2b2b" stroke-width="1.0"/>
<text x="865.4" y="215.3" font-size="10" fill="#1c1c1c" stroke="#1c1c1c" stroke-width="0.3">O</text>
<line x1="870.3" y1="202.6" x2="870.3" y2="207.2" stroke="#2b2b2b" stroke-width="0.9"/>
<line x1="868.3" y1="202.6" x2="868.3" y2="207.2" stroke="#2b2b2b" stroke-width="0.9"/>
<line x1="884.8" y1="201.9" x2="887.6" y2="211.9" stroke="#2b2b2b" stroke-width="1.0"/>
<polygon points="887.6,211.9 898.6,218.8 899.8,216.2" fill="#2b2b2b" stroke="none" stroke-width="1"/>
<line x1="899.2" y1="217.5" x2="906.3" y2="212.7" stroke="#2b2b2b" stroke-width="1.0"/>
<line x1="912.8" y1="212.5" x2="921.1" y2="217.5" stroke="#2b2b2b" stroke-width="1.0"/>
<line x1="921.1" y1="217.5" x2="917.3" y2="229.9" stroke="#2b2b2b" stroke-width="1.0"/>
<line x1="917.3" y1="229.9" x2="902.3" y2="229.9" stroke="#2b2b2b" stroke-width="1.6"/>
<line x1="902.3" y1="229.9" x2="899.2" y2="217.5" stroke="#2b2b2b" stroke-width="1.3"/>
<polygon points="902.3,229.9 896.1,238.2 898.3,239.5" fill="#2b2b2b" stroke="none" stroke-width="1"/>
<polygon points="917.3,229.9 920.8,239.4 923.1,238.2" fill="#2b2b2b" stroke="none" stroke-width="1"/>
<text x="883.9" y="246.4" font-size="10" fill="#1c1c1c" stroke="#1c1c1c" stroke-width="0.3">HO</text>
<text x="920.1" y="246.4" font-size="10" fill="#1c1c1c" stroke="#1c1c1c" stroke-width="0.3">OH</text>
<text x="905.6" y="214.2" font-size="10" fill="#1c1c1c" stroke="#1c1c1c" stroke-width="0.3">O</text>
<polygon points="921.1,217.5 929.7,214.8 928.5,212.5" fill="#2b2b2b" stroke="none" stroke-width="1"/>
<text x="929.1" y="215.5" font-size="10" fill="#1c1c1c" stroke="#1c1c1c" stroke-width="0.3">N</text>
<text x="929.1" y="205.0" font-size="10" fill="#1c1c1c" stroke="#1c1c1c" stroke-width="0.3">H</text>
<line x1="932.7" y1="207.9" x2="932.7" y2="205.4" stroke="#2b2b2b" stroke-width="1.0"/>
<line x1="936.1" y1="213.9" x2="943.6" y2="218.3" stroke="#2b2b2b" stroke-width="1.0"/>
<line x1="944.7" y1="218.3" x2="944.7" y2="228.2" stroke="#2b2b2b" stroke-width="0.9"/>
<line x1="942.5" y1="218.3" x2="942.5" y2="228.2" stroke="#2b2b2b" stroke-width="0.9"/>
<text x="939.7" y="236.1" font-size="10" fill="#1c1c1c" stroke="#1c1c1c" stroke-width="0.3">O</text>
<line x1="943.6" y1="218.3" x2="955.9" y2="211.9" stroke="#2b2b2b" stroke-width="1.0"/>
<line x1="955.9" y1="211.9" x2="965.2" y2="216.5" stroke="#2b2b2b" stroke-width="1.0"/>
<text x="965.2" y="221.9" font-size="10" fill="#1c1c1c" stroke="#1c1c1c" stroke-width="0.3">N</text>
<text x="965.2" y="231.9" font-size="10" fill="#1c1c1c" stroke="#1c1c1c" stroke-width="0.3">H</text>
<line x1="968.8" y1="222.3" x2="968.8" y2="224.3" stroke="#2b2b2b" stroke-width="1.0"/>
<line x1="972.2" y1="216.2" x2="979.1" y2="211.9" stroke="#2b2b2b" stroke-width="1.0"/>
<line x1="979.6" y1="210.9" x2="987.5" y2="215.3" stroke="#2b2b2b" stroke-width="0.9"/>
<line x1="978.6" y1="212.9" x2="986.4" y2="217.2" stroke="#2b2b2b" stroke-width="0.9"/>
<text x="986.8" y="221.9" font-size="10" fill="#1c1c1c" stroke="#1c1c1c" stroke-width="0.3">O</text>
<text x="611.5" y="254.4" font-size="10" fill="#1c1c1c" stroke="#1c1c1c" stroke-width="0.3">HO</text>
<text x="632.8" y="254.4" font-size="10" fill="#1c1c1c" stroke="#1c1c1c" stroke-width="0.3">P</text>
<text x="645.7" y="254.4" font-size="10" fill="#1c1c1c" stroke="#1c1c1c" stroke-width="0.3">O</text>
<line x1="626.8" y1="250.8" x2="632.3" y2="250.8" stroke="#2b2b2b" stroke-width="1.0"/>
<line x1="639.9" y1="250.8" x2="645.4" y2="250.8" stroke="#2b2b2b" stroke-width="1.0"/>
<text x="632.2" y="241.1" font-size="10" fill="#1c1c1c" stroke="#1c1c1c" stroke-width="0.3">OH</text>
<line x1="636.1" y1="242.0" x2="636.1" y2="246.3" stroke="#2b2b2b" stroke-width="1.0"/>
<text x="632.2" y="267.7" font-size="10" fill="#1c1c1c" stroke="#1c1c1c" stroke-width="0.3">O</text>
<line x1="637.1" y1="255.3" x2="637.1" y2="259.6" stroke="#2b2b2b" stroke-width="0.9"/>
<line x1="635.1" y1="255.3" x2="635.1" y2="259.6" stroke="#2b2b2b" stroke-width="0.9"/>
<line x1="650.5" y1="254.7" x2="652.6" y2="264.1" stroke="#2b2b2b" stroke-width="1.0"/>
<polygon points="652.6,264.1 662.3,269.5 663.3,266.9" fill="#2b2b2b" stroke="none" stroke-width="1"/>
<line x1="662.8" y1="268.2" x2="672.9" y2="262.0" stroke="#2b2b2b" stroke-width="1.0"/>
<line x1="679.3" y1="262.0" x2="688.4" y2="267.6" stroke="#2b2b2b" stroke-width="1.0"/>
<line x1="688.4" y1="267.6" x2="685.4" y2="280.5" stroke="#2b2b2b" stroke-width="1.0"/>
<line x1="685.4" y1="280.5" x2="669.0" y2="280.5" stroke="#2b2b2b" stroke-width="1.6"/>
<line x1="669.0" y1="280.5" x2="662.8" y2="268.2" stroke="#2b2b2b" stroke-width="1.3"/>
<polygon points="669.0,280.5 661.8,287.5 663.8,289.1" fill="#2b2b2b" stroke="none" stroke-width="1"/>
<polygon points="685.4,280.5 689.4,288.8 691.6,287.3" fill="#2b2b2b" stroke="none" stroke-width="1"/>
<text x="648.9" y="295.4" font-size="10" fill="#1c1c1c" stroke="#1c1c1c" stroke-width="0.3">HO</text>
<text x="689.1" y="295.4" font-size="10" fill="#1c1c1c" stroke="#1c1c1c" stroke-width="0.3">OH</text>
<text x="672.2" y="263.6" font-size="10" fill="#1c1c1c" stroke="#1c1c1c" stroke-width="0.3">O</text>
<polygon points="688.4,267.6 698.4,265.6 697.6,263.1" fill="#2b2b2b" stroke="none" stroke-width="1"/>
<text x="698.2" y="266.7" font-size="10" fill="#1c1c1c" stroke="#1c1c1c" stroke-width="0.3">N</text>
<text x="698.2" y="256.4" font-size="10" fill="#1c1c1c" stroke="#1c1c1c" stroke-width="0.3">H</text>
<line x1="701.8" y1="259.1" x2="701.8" y2="256.8" stroke="#2b2b2b" stroke-width="1.0"/>
<line x1="705.5" y1="264.6" x2="714.1" y2="268.2" stroke="#2b2b2b" stroke-width="1.0"/>
<line x1="715.2" y1="267.9" x2="718.3" y2="281.2" stroke="#2b2b2b" stroke-width="0.9"/>
<line x1="713.0" y1="268.5" x2="716.1" y2="281.7" stroke="#2b2b2b" stroke-width="0.9"/>
<text x="714.6" y="289.2" font-size="10" fill="#1c1c1c" stroke="#1c1c1c" stroke-width="0.3">NH</text>
<line x1="714.1" y1="268.2" x2="726.4" y2="263.1" stroke="#2b2b2b" stroke-width="1.0"/>
<line x1="726.4" y1="263.1" x2="735.4" y2="269.1" stroke="#2b2b2b" stroke-width="1.0"/>
<text x="735.1" y="274.9" font-size="10" fill="#1c1c1c" stroke="#1c1c1c" stroke-width="0.3">N</text>
<text x="735.1" y="284.4" font-size="10" fill="#1c1c1c" stroke="#1c1c1c" stroke-width="0.3">H</text>
<line x1="738.7" y1="275.3" x2="738.7" y2="276.8" stroke="#2b2b2b" stroke-width="1.0"/>
<line x1="742.0" y1="269.1" x2="751.0" y2="263.1" stroke="#2b2b2b" stroke-width="1.0"/>
<line x1="749.9" y1="263.1" x2="749.9" y2="255.1" stroke="#2b2b2b" stroke-width="0.9"/>
<line x1="752.1" y1="263.1" x2="752.1" y2="255.1" stroke="#2b2b2b" stroke-width="0.9"/>
<text x="747.1" y="254.4" font-size="10" fill="#1c1c1c" stroke="#1c1c1c" stroke-width="0.3">O</text>
<line x1="751.0" y1="263.1" x2="760.0" y2="269.1" stroke="#2b2b2b" stroke-width="1.0"/>
<text x="759.7" y="274.9" font-size="10" fill="#1c1c1c" stroke="#1c1c1c" stroke-width="0.3">H</text>
<text x="834.4" y="293.4" font-size="10" fill="#1c1c1c" stroke="#1c1c1c" stroke-width="0.3">HO</text>
<text x="856.5" y="293.4" font-size="10" fill="#1c1c1c" stroke="#1c1c1c" stroke-width="0.3">P</text>
<text x="870.2" y="293.4" font-size="10" fill="#1c1c1c" stroke="#1c1c1c" stroke-width="0.3">O</text>
<line x1="849.7" y1="289.8" x2="856.0" y2="289.8" stroke="#2b2b2b" stroke-width="1.0"/>
<line x1="863.6" y1="289.8" x2="869.9" y2="289.8" stroke="#2b2b2b" stroke-width="1.0"/>
<text x="855.9" y="280.1" font-size="10" fill="#1c1c1c" stroke="#1c1c1c" stroke-width="0.3">OH</text>
<line x1="859.8" y1="281.0" x2="859.8" y2="285.3" stroke="#2b2b2b" stroke-width="1.0"/>
<text x="855.9" y="306.7" font-size="10" fill="#1c1c1c" stroke="#1c1c1c" stroke-width="0.3">O</text>
<line x1="860.8" y1="294.3" x2="860.8" y2="298.6" stroke="#2b2b2b" stroke-width="0.9"/>
<line x1="858.8" y1="294.3" x2="858.8" y2="298.6" stroke="#2b2b2b" stroke-width="0.9"/>
<line x1="874.8" y1="293.7" x2="876.5" y2="302.9" stroke="#2b2b2b" stroke-width="1.0"/>
<polygon points="876.5,302.9 888.0,307.8 888.8,305.2" fill="#2b2b2b" stroke="none" stroke-width="1"/>
<line x1="888.4" y1="306.5" x2="897.2" y2="300.3" stroke="#2b2b2b" stroke-width="1.0"/>
<line x1="903.6" y1="300.1" x2="912.2" y2="305.3" stroke="#2b2b2b" stroke-width="1.0"/>
<line x1="912.2" y1="305.3" x2="908.7" y2="319.6" stroke="#2b2b2b" stroke-width="1.0"/>
<line x1="908.7" y1="319.6" x2="892.0" y2="319.6" stroke="#2b2b2b" stroke-width="1.6"/>
<line x1="892.0" y1="319.6" x2="888.4" y2="306.5" stroke="#2b2b2b" stroke-width="1.3"/>
<polygon points="892.0,319.6 886.4,325.8 888.6,327.2" fill="#2b2b2b" stroke="none" stroke-width="1"/>
<polygon points="908.7,319.6 912.0,327.2 914.2,325.8" fill="#2b2b2b" stroke="none" stroke-width="1"/>
<text x="873.9" y="333.9" font-size="10" fill="#1c1c1c" stroke="#1c1c1c" stroke-width="0.3">HO</text>
<text x="911.6" y="333.9" font-size="10" fill="#1c1c1c" stroke="#1c1c1c" stroke-width="0.3">OH</text>
<text x="896.4" y="301.7" font-size="10" fill="#1c1c1c" stroke="#1c1c1c" stroke-width="0.3">O</text>
<polygon points="912.2,305.3 919.1,298.7 917.1,297.1" fill="#2b2b2b" stroke="none" stroke-width="1"/>
<line x1="919.5" y1="291.0" x2="917.0" y2="282.1" stroke="#2b2b2b" stroke-width="1.0"/>
<line x1="917.0" y1="282.1" x2="924.0" y2="276.6" stroke="#2b2b2b" stroke-width="0.9"/>
<line x1="916.7" y1="279.3" x2="921.4" y2="275.7" stroke="#2b2b2b" stroke-width="0.9"/>
<line x1="930.1" y1="276.9" x2="936.3" y2="282.7" stroke="#2b2b2b" stroke-width="1.0"/>
<line x1="936.3" y1="282.7" x2="932.5" y2="295.7" stroke="#2b2b2b" stroke-width="0.9"/>
<line x1="933.6" y1="283.5" x2="930.6" y2="293.6" stroke="#2b2b2b" stroke-width="0.9"/>
<line x1="932.5" y1="295.7" x2="924.6" y2="295.1" stroke="#2b2b2b" stroke-width="1.0"/>
<text x="917.0" y="298.4" font-size="10" fill="#1c1c1c" stroke="#1c1c1c" stroke-width="0.3">N</text>
<text x="923.6" y="277.8" font-size="10" fill="#1c1c1c" stroke="#1c1c1c" stroke-width="0.3">N</text>
<line x1="932.5" y1="295.7" x2="941.7" y2="303.6" stroke="#2b2b2b" stroke-width="1.0"/>
<text x="940.9" y="310.1" font-size="10" fill="#1c1c1c" stroke="#1c1c1c" stroke-width="0.3">NH</text>
<text x="955.5" y="312.7" font-size="7.199999999999999" fill="#1c1c1c" stroke="#1c1c1c" stroke-width="0.3">2</text>
<line x1="936.3" y1="282.7" x2="949.6" y2="275.4" stroke="#2b2b2b" stroke-width="1.0"/>
<line x1="948.5" y1="275.4" x2="948.5" y2="265.5" stroke="#2b2b2b" stroke-width="0.9"/>
<line x1="950.7" y1="275.4" x2="950.7" y2="265.5" stroke="#2b2b2b" stroke-width="0.9"/>
<text x="945.7" y="264.8" font-size="10" fill="#1c1c1c" stroke="#1c1c1c" stroke-width="0.3">O</text>
<line x1="949.6" y1="275.4" x2="958.9" y2="280.2" stroke="#2b2b2b" stroke-width="1.0"/>
<text x="958.8" y="285.7" font-size="10" fill="#1c1c1c" stroke="#1c1c1c" stroke-width="0.3">N</text>
<text x="958.8" y="295.2" font-size="10" fill="#1c1c1c" stroke="#1c1c1c" stroke-width="0.3">H</text>
<line x1="962.4" y1="286.1" x2="962.4" y2="287.6" stroke="#2b2b2b" stroke-width="1.0"/>
<line x1="965.8" y1="280.0" x2="973.3" y2="275.4" stroke="#2b2b2b" stroke-width="1.0"/>
<polygon points="973.3,275.4 974.5,261.2 972.1,261.2" fill="#2b2b2b" stroke="none" stroke-width="1"/>
<line x1="972.8" y1="262.2" x2="965.7" y2="258.4" stroke="#2b2b2b" stroke-width="0.9"/>
<line x1="973.8" y1="260.2" x2="966.7" y2="256.4" stroke="#2b2b2b" stroke-width="0.9"/>
<text x="958.5" y="259.0" font-size="10" fill="#1c1c1c" stroke="#1c1c1c" stroke-width="0.3">O</text>
<line x1="973.3" y1="261.2" x2="978.7" y2="257.6" stroke="#2b2b2b" stroke-width="1.0"/>
<text x="978.1" y="259.0" font-size="10" fill="#1c1c1c" stroke="#1c1c1c" stroke-width="0.3">OH</text>
<line x1="973.3" y1="275.4" x2="984.8" y2="282.1" stroke="#2b2b2b" stroke-width="1.0"/>
<line x1="984.8" y1="282.1" x2="997.5" y2="275.4" stroke="#2b2b2b" stroke-width="1.0"/>
<line x1="996.4" y1="275.4" x2="996.4" y2="267.0" stroke="#2b2b2b" stroke-width="0.9"/>
<line x1="998.6" y1="275.4" x2="998.6" y2="267.0" stroke="#2b2b2b" stroke-width="0.9"/>
<text x="993.6" y="266.3" font-size="10" fill="#1c1c1c" stroke="#1c1c1c" stroke-width="0.3">O</text>
<line x1="997.5" y1="275.4" x2="1005.1" y2="280.0" stroke="#2b2b2b" stroke-width="1.0"/>
<text x="1004.6" y="285.7" font-size="10" fill="#1c1c1c" stroke="#1c1c1c" stroke-width="0.3">OH</text>
<text x="633.4" y="366.1" font-size="10" fill="#1c1c1c" stroke="#1c1c1c" stroke-width="0.3">HO</text>
<text x="654.5" y="366.1" font-size="10" fill="#1c1c1c" stroke="#1c1c1c" stroke-width="0.3">P</text>
<text x="667.2" y="366.1" font-size="10" fill="#1c1c1c" stroke="#1c1c1c" stroke-width="0.3">O</text>
<line x1="648.7" y1="362.5" x2="654.0" y2="362.5" stroke="#2b2b2b" stroke-width="1.0"/>
<line x1="661.6" y1="362.5" x2="666.9" y2="362.5" stroke="#2b2b2b" stroke-width="1.0"/>
<text x="653.9" y="352.3" font-size="10" fill="#1c1c1c" stroke="#1c1c1c" stroke-width="0.3">OH</text>
<line x1="657.8" y1="353.2" x2="657.8" y2="358.0" stroke="#2b2b2b" stroke-width="1.0"/>
<text x="653.9" y="379.9" font-size="10" fill="#1c1c1c" stroke="#1c1c1c" stroke-width="0.3">O</text>
<line x1="658.8" y1="367.0" x2="658.8" y2="371.8" stroke="#2b2b2b" stroke-width="0.9"/>
<line x1="656.8" y1="367.0" x2="656.8" y2="371.8" stroke="#2b2b2b" stroke-width="0.9"/>
<line x1="672.0" y1="366.4" x2="674.5" y2="376.6" stroke="#2b2b2b" stroke-width="1.0"/>
<polygon points="674.5,376.6 685.5,381.4 686.3,378.8" fill="#2b2b2b" stroke="none" stroke-width="1"/>
<line x1="685.9" y1="380.1" x2="695.0" y2="374.3" stroke="#2b2b2b" stroke-width="1.0"/>
<line x1="701.3" y1="374.4" x2="709.6" y2="380.1" stroke="#2b2b2b" stroke-width="1.0"/>
<line x1="709.6" y1="380.1" x2="706.1" y2="392.4" stroke="#2b2b2b" stroke-width="1.0"/>
<line x1="706.1" y1="392.4" x2="690.3" y2="392.4" stroke="#2b2b2b" stroke-width="1.6"/>
<line x1="690.3" y1="392.4" x2="685.9" y2="380.1" stroke="#2b2b2b" stroke-width="1.3"/>
<polygon points="690.3,392.4 682.5,401.2 684.7,402.7" fill="#2b2b2b" stroke="none" stroke-width="1"/>
<polygon points="706.1,392.4 711.2,402.6 713.4,401.1" fill="#2b2b2b" stroke="none" stroke-width="1"/>
<text x="669.9" y="409.2" font-size="10" fill="#1c1c1c" stroke="#1c1c1c" stroke-width="0.3">HO</text>
<text x="710.9" y="409.2" font-size="10" fill="#1c1c1c" stroke="#1c1c1c" stroke-width="0.3">OH</text>
<text x="694.3" y="375.8" font-size="10" fill="#1c1c1c" stroke="#1c1c1c" stroke-width="0.3">O</text>
<polygon points="709.6,380.1 717.1,371.8 715.0,370.3" fill="#2b2b2b" stroke="none" stroke-width="1"/>
<line x1="717.4" y1="363.9" x2="714.9" y2="354.6" stroke="#2b2b2b" stroke-width="1.0"/>
<line x1="714.9" y1="354.6" x2="723.7" y2="349.6" stroke="#2b2b2b" stroke-width="0.9"/>
<line x1="715.0" y1="351.8" x2="721.2" y2="348.2" stroke="#2b2b2b" stroke-width="0.9"/>
<line x1="730.3" y1="350.1" x2="736.0" y2="354.6" stroke="#2b2b2b" stroke-width="1.0"/>
<line x1="736.0" y1="354.6" x2="732.5" y2="366.9" stroke="#2b2b2b" stroke-width="0.9"/>
<line x1="733.3" y1="355.4" x2="730.6" y2="364.8" stroke="#2b2b2b" stroke-width="0.9"/>
<line x1="732.5" y1="366.9" x2="722.4" y2="367.5" stroke="#2b2b2b" stroke-width="1.0"/>
<text x="714.8" y="371.4" font-size="10" fill="#1c1c1c" stroke="#1c1c1c" stroke-width="0.3">N</text>
<text x="723.6" y="351.2" font-size="10" fill="#1c1c1c" stroke="#1c1c1c" stroke-width="0.3">N</text>
<line x1="732.5" y1="366.9" x2="741.4" y2="375.9" stroke="#2b2b2b" stroke-width="1.0"/>
<text x="740.7" y="383.7" font-size="10" fill="#1c1c1c" stroke="#1c1c1c" stroke-width="0.3">NH</text>
<text x="755.3" y="386.3" font-size="7.199999999999999" fill="#1c1c1c" stroke="#1c1c1c" stroke-width="0.3">2</text>
<line x1="736.0" y1="354.6" x2="751.0" y2="351.1" stroke="#2b2b2b" stroke-width="1.0"/>
<line x1="749.9" y1="350.8" x2="752.3" y2="341.8" stroke="#2b2b2b" stroke-width="0.9"/>
<line x1="752.1" y1="351.4" x2="754.5" y2="342.3" stroke="#2b2b2b" stroke-width="0.9"/>
<text x="750.6" y="341.5" font-size="10" fill="#1c1c1c" stroke="#1c1c1c" stroke-width="0.3">O</text>
<line x1="751.0" y1="351.1" x2="759.7" y2="357.4" stroke="#2b2b2b" stroke-width="1.0"/>
<text x="759.6" y="365.2" font-size="10" fill="#1c1c1c" stroke="#1c1c1c" stroke-width="0.3">NH</text>
<text x="774.2" y="367.8" font-size="7.199999999999999" fill="#1c1c1c" stroke="#1c1c1c" stroke-width="0.3">2</text>
<text x="858.0" y="382.1" font-size="10" fill="#1c1c1c" stroke="#1c1c1c" stroke-width="0.3">HN</text>
<line x1="872.2" y1="376.3" x2="881.1" y2="370.5" stroke="#2b2b2b" stroke-width="1.0"/>
<polygon points="881.1,370.5 882.3,362.3 879.9,362.3" fill="#2b2b2b" stroke="none" stroke-width="1"/>
<text x="877.2" y="361.6" font-size="10" fill="#1c1c1c" stroke="#1c1c1c" stroke-width="0.3">O</text>
<line x1="881.1" y1="370.5" x2="892.5" y2="376.7" stroke="#2b2b2b" stroke-width="1.0"/>
<line x1="892.5" y1="376.7" x2="892.5" y2="391.6" stroke="#2b2b2b" stroke-width="0.9"/>
<line x1="894.9" y1="378.2" x2="894.9" y2="390.1" stroke="#2b2b2b" stroke-width="0.9"/>
<line x1="892.5" y1="391.6" x2="885.1" y2="397.8" stroke="#2b2b2b" stroke-width="1.0"/>
<line x1="878.5" y1="398.4" x2="869.6" y2="393.4" stroke="#2b2b2b" stroke-width="0.9"/>
<line x1="876.0" y1="399.8" x2="869.7" y2="396.2" stroke="#2b2b2b" stroke-width="0.9"/>
<line x1="869.6" y1="393.4" x2="869.0" y2="382.5" stroke="#2b2b2b" stroke-width="1.0"/>
<text x="878.4" y="404.0" font-size="10" fill="#1c1c1c" stroke="#1c1c1c" stroke-width="0.3">N</text>
<line x1="892.5" y1="376.7" x2="904.4" y2="374.7" stroke="#2b2b2b" stroke-width="1.0"/>
<line x1="910.4" y1="377.5" x2="915.3" y2="385.5" stroke="#2b2b2b" stroke-width="0.9"/>
<line x1="909.1" y1="380.0" x2="912.5" y2="385.5" stroke="#2b2b2b" stroke-width="0.9"/>
<line x1="915.3" y1="385.5" x2="910.3" y2="394.3" stroke="#2b2b2b" stroke-width="1.0"/>
<line x1="904.6" y1="396.3" x2="892.5" y2="391.6" stroke="#2b2b2b" stroke-width="1.0"/>
<text x="904.7" y="377.7" font-size="10" fill="#1c1c1c" stroke="#1c1c1c" stroke-width="0.3">N</text>
<text x="904.7" y="401.4" font-size="10" fill="#1c1c1c" stroke="#1c1c1c" stroke-width="0.3">N</text>
<polygon points="896.9,417.1 907.5,402.0 905.1,400.5" fill="#2b2b2b" stroke="none" stroke-width="1"/>
<text x="809.3" y="424.2" font-size="10" fill="#1c1c1c" stroke="#1c1c1c" stroke-width="0.3">HO</text>
<text x="831.2" y="424.2" font-size="10" fill="#1c1c1c" stroke="#1c1c1c" stroke-width="0.3">P</text>
<text x="844.7" y="424.2" font-size="10" fill="#1c1c1c" stroke="#1c1c1c" stroke-width="0.3">O</text>
<line x1="824.6" y1="420.6" x2="830.7" y2="420.6" stroke="#2b2b2b" stroke-width="1.0"/>
<line x1="838.3" y1="420.6" x2="844.4" y2="420.6" stroke="#2b2b2b" stroke-width="1.0"/>
<text x="830.6" y="410.2" font-size="10" fill="#1c1c1c" stroke="#1c1c1c" stroke-width="0.3">OH</text>
<line x1="834.5" y1="411.1" x2="834.5" y2="416.1" stroke="#2b2b2b" stroke-width="1.0"/>
<text x="830.6" y="438.2" font-size="10" fill="#1c1c1c" stroke="#1c1c1c" stroke-width="0.3">O</text>
<line x1="835.5" y1="425.1" x2="835.5" y2="430.1" stroke="#2b2b2b" stroke-width="0.9"/>
<line x1="833.5" y1="425.1" x2="833.5" y2="430.1" stroke="#2b2b2b" stroke-width="0.9"/>
<line x1="852.1" y1="418.7" x2="860.0" y2="414.5" stroke="#2b2b2b" stroke-width="1.0"/>
<polygon points="860.0,414.5 873.7,418.5 874.3,415.7" fill="#2b2b2b" stroke="none" stroke-width="1"/>
<line x1="874.0" y1="417.1" x2="882.1" y2="412.8" stroke="#2b2b2b" stroke-width="1.0"/>
<line x1="888.9" y1="412.8" x2="896.9" y2="417.1" stroke="#2b2b2b" stroke-width="1.0"/>
<line x1="896.9" y1="417.1" x2="894.3" y2="431.2" stroke="#2b2b2b" stroke-width="1.0"/>
<line x1="894.3" y1="431.2" x2="876.7" y2="431.2" stroke="#2b2b2b" stroke-width="1.6"/>
<line x1="876.7" y1="431.2" x2="874.0" y2="417.1" stroke="#2b2b2b" stroke-width="1.3"/>
<polygon points="876.7,431.2 869.5,439.1 871.7,440.6" fill="#2b2b2b" stroke="none" stroke-width="1"/>
<polygon points="894.3,431.2 898.5,440.4 900.7,439.0" fill="#2b2b2b" stroke="none" stroke-width="1"/>
<text x="856.9" y="447.1" font-size="10" fill="#1c1c1c" stroke="#1c1c1c" stroke-width="0.3">HO</text>
<text x="898.1" y="447.1" font-size="10" fill="#1c1c1c" stroke="#1c1c1c" stroke-width="0.3">OH</text>
<text x="881.6" y="414.6" font-size="10" fill="#1c1c1c" stroke="#1c1c1c" stroke-width="0.3">O</text>
<text x="4.0" y="487.3" font-size="25" fill="#1c1c1c" stroke="#1c1c1c" stroke-width="0.3">D</text>
<line x1="81.7" y1="493.1" x2="81.7" y2="617.7" stroke="#8c8c8c" stroke-width="1.1"/>
<line x1="76.7" y1="503.2" x2="81.7" y2="503.2" stroke="#8c8c8c" stroke-width="1.1"/>
<text x="62.0" y="510.2" font-size="16.8" text-anchor="end" fill="#1c1c1c" stroke="#1c1c1c" stroke-width="0.3">240.0</text>
<line x1="76.7" y1="524.0" x2="81.7" y2="524.0" stroke="#8c8c8c" stroke-width="1.1"/>
<text x="62.0" y="531.0" font-size="16.8" text-anchor="end" fill="#1c1c1c" stroke="#1c1c1c" stroke-width="0.3">200.0</text>
<line x1="76.7" y1="544.8" x2="81.7" y2="544.8" stroke="#8c8c8c" stroke-width="1.1"/>
<text x="62.0" y="551.8" font-size="16.8" text-anchor="end" fill="#1c1c1c" stroke="#1c1c1c" stroke-width="0.3">160.0</text>
<line x1="76.7" y1="565.6" x2="81.7" y2="565.6" stroke="#8c8c8c" stroke-width="1.1"/>
<text x="62.0" y="572.6" font-size="16.8" text-anchor="end" fill="#1c1c1c" stroke="#1c1c1c" stroke-width="0.3">120.0</text>
<line x1="76.7" y1="586.4" x2="81.7" y2="586.4" stroke="#8c8c8c" stroke-width="1.1"/>
<text x="62.0" y="593.4" font-size="16.8" text-anchor="end" fill="#1c1c1c" stroke="#1c1c1c" stroke-width="0.3">80.0</text>
<line x1="76.7" y1="607.2" x2="81.7" y2="607.2" stroke="#8c8c8c" stroke-width="1.1"/>
<text x="62.0" y="614.2" font-size="16.8" text-anchor="end" fill="#1c1c1c" stroke="#1c1c1c" stroke-width="0.3">40.0</text>
<line x1="73.4" y1="619.3" x2="414.1" y2="619.3" stroke="#9a9a9a" stroke-width="1.2"/>
<line x1="73.4" y1="622.4" x2="414.1" y2="622.4" stroke="#9a9a9a" stroke-width="1.2"/>
<line x1="81.7" y1="626.2" x2="81.7" y2="830.3" stroke="#8c8c8c" stroke-width="1.1"/>
<line x1="76.7" y1="830.3" x2="81.7" y2="830.3" stroke="#8c8c8c" stroke-width="1.1"/>
<text x="62.0" y="837.3" font-size="16.8" text-anchor="end" fill="#1c1c1c" stroke="#1c1c1c" stroke-width="0.3">0.0</text>
<line x1="76.7" y1="801.1" x2="81.7" y2="801.1" stroke="#8c8c8c" stroke-width="1.1"/>
<text x="62.0" y="808.1" font-size="16.8" text-anchor="end" fill="#1c1c1c" stroke="#1c1c1c" stroke-width="0.3">5.0</text>
<line x1="76.7" y1="772.0" x2="81.7" y2="772.0" stroke="#8c8c8c" stroke-width="1.1"/>
<text x="62.0" y="779.0" font-size="16.8" text-anchor="end" fill="#1c1c1c" stroke="#1c1c1c" stroke-width="0.3">10.0</text>
<line x1="76.7" y1="742.8" x2="81.7" y2="742.8" stroke="#8c8c8c" stroke-width="1.1"/>
<text x="62.0" y="749.8" font-size="16.8" text-anchor="end" fill="#1c1c1c" stroke="#1c1c1c" stroke-width="0.3">15.0</text>
<line x1="76.7" y1="713.7" x2="81.7" y2="713.7" stroke="#8c8c8c" stroke-width="1.1"/>
<text x="62.0" y="720.7" font-size="16.8" text-anchor="end" fill="#1c1c1c" stroke="#1c1c1c" stroke-width="0.3">20.0</text>
<line x1="76.7" y1="684.5" x2="81.7" y2="684.5" stroke="#8c8c8c" stroke-width="1.1"/>
<text x="62.0" y="691.5" font-size="16.8" text-anchor="end" fill="#1c1c1c" stroke="#1c1c1c" stroke-width="0.3">25.0</text>
<line x1="76.7" y1="655.4" x2="81.7" y2="655.4" stroke="#8c8c8c" stroke-width="1.1"/>
<text x="62.0" y="662.4" font-size="16.8" text-anchor="end" fill="#1c1c1c" stroke="#1c1c1c" stroke-width="0.3">30.0</text>
<line x1="76.7" y1="626.2" x2="81.7" y2="626.2" stroke="#8c8c8c" stroke-width="1.1"/>
<text x="62.0" y="633.2" font-size="16.8" text-anchor="end" fill="#1c1c1c" stroke="#1c1c1c" stroke-width="0.3">35.0</text>
<line x1="81.7" y1="830.3" x2="438.6" y2="830.3" stroke="#8c8c8c" stroke-width="1.1"/>
<line x1="81.7" y1="830.3" x2="81.7" y2="835.0" stroke="#8c8c8c" stroke-width="1.1"/>
<line x1="170.5" y1="830.3" x2="170.5" y2="835.0" stroke="#8c8c8c" stroke-width="1.1"/>
<line x1="260.5" y1="830.3" x2="260.5" y2="835.0" stroke="#8c8c8c" stroke-width="1.1"/>
<line x1="350.6" y1="830.3" x2="350.6" y2="835.0" stroke="#8c8c8c" stroke-width="1.1"/>
<line x1="438.6" y1="830.3" x2="438.6" y2="835.0" stroke="#8c8c8c" stroke-width="1.1"/>
<text x="125.8" y="857.7" font-size="16" text-anchor="middle" fill="#1c1c1c" stroke="#1c1c1c" stroke-width="0.3">0</text>
<text x="215.3" y="857.7" font-size="16" text-anchor="middle" fill="#1c1c1c" stroke="#1c1c1c" stroke-width="0.3">15</text>
<text x="305.4" y="857.7" font-size="16" text-anchor="middle" fill="#1c1c1c" stroke="#1c1c1c" stroke-width="0.3">30</text>
<text x="394.6" y="857.7" font-size="16" text-anchor="middle" fill="#1c1c1c" stroke="#1c1c1c" stroke-width="0.3">60</text>
<text x="260.2" y="883.8" font-size="14.4" text-anchor="middle" fill="#1c1c1c" stroke="#1c1c1c" stroke-width="0.3">Time after N-starvation (min)</text>
<text x="0.0" y="0.0" font-size="14.2" text-anchor="middle" fill="#1c1c1c" stroke="#1c1c1c" stroke-width="0.3" transform="translate(13.9,737.6) rotate(-90)">Normalized peak area</text>
<polyline points="125.3,546.3 214.9,510.0 304.8,533.4 391.5,606.2" stroke="#5784c8" stroke-width="3.4" fill="none" stroke-linejoin="round"/>
<line x1="125.3" y1="535.6" x2="125.3" y2="556.7" stroke="#222" stroke-width="1.6"/>
<line x1="121.8" y1="535.6" x2="128.8" y2="535.6" stroke="#222" stroke-width="1.6"/>
<line x1="121.8" y1="556.7" x2="128.8" y2="556.7" stroke="#222" stroke-width="1.6"/>
<line x1="214.9" y1="495.2" x2="214.9" y2="524.5" stroke="#222" stroke-width="1.6"/>
<line x1="211.4" y1="495.2" x2="218.4" y2="495.2" stroke="#222" stroke-width="1.6"/>
<line x1="211.4" y1="524.5" x2="218.4" y2="524.5" stroke="#222" stroke-width="1.6"/>
<line x1="304.8" y1="528.4" x2="304.8" y2="538.1" stroke="#222" stroke-width="1.6"/>
<line x1="301.3" y1="528.4" x2="308.3" y2="528.4" stroke="#222" stroke-width="1.6"/>
<line x1="301.3" y1="538.1" x2="308.3" y2="538.1" stroke="#222" stroke-width="1.6"/>
<polygon points="119.8,546.3 125.3,540.8 130.8,546.3 125.3,551.8" fill="#80a6e4" stroke="#5784c8" stroke-width="0.8"/>
<polygon points="209.4,510.0 214.9,504.5 220.4,510.0 214.9,515.5" fill="#80a6e4" stroke="#5784c8" stroke-width="0.8"/>
<polygon points="299.3,533.4 304.8,527.9 310.3,533.4 304.8,538.9" fill="#80a6e4" stroke="#5784c8" stroke-width="0.8"/>
<polygon points="386.0,606.2 391.5,600.7 397.0,606.2 391.5,611.7" fill="#80a6e4" stroke="#5784c8" stroke-width="0.8"/>
<polyline points="125.8,707.1 215.3,673.6 305.4,757.6 394.6,809.8" stroke="#c0504d" stroke-width="3.4" fill="none" stroke-linejoin="round"/>
<polyline points="125.8,780.0 215.3,757.9 305.4,826.2 394.6,827.5" stroke="#a6bd5e" stroke-width="3.4" fill="none" stroke-linejoin="round"/>
<polyline points="125.8,673.6 215.3,689.1 305.4,761.7 394.6,815.0" stroke="#7f62a8" stroke-width="3.4" fill="none" stroke-linejoin="round"/>
<polyline points="125.8,771.0 215.3,765.3 305.4,794.5 394.6,807.8" stroke="#5aaad2" stroke-width="3.4" fill="none" stroke-linejoin="round"/>
<line x1="125.8" y1="667.8" x2="125.8" y2="680.1" stroke="#222" stroke-width="1.6"/>
<line x1="122.3" y1="667.8" x2="129.3" y2="667.8" stroke="#222" stroke-width="1.6"/>
<line x1="122.3" y1="680.1" x2="129.3" y2="680.1" stroke="#222" stroke-width="1.6"/>
<line x1="125.8" y1="685.5" x2="125.8" y2="730.1" stroke="#222" stroke-width="1.6"/>
<line x1="122.3" y1="685.5" x2="129.3" y2="685.5" stroke="#222" stroke-width="1.6"/>
<line x1="122.3" y1="730.1" x2="129.3" y2="730.1" stroke="#222" stroke-width="1.6"/>
<line x1="125.8" y1="763.6" x2="125.8" y2="794.8" stroke="#222" stroke-width="1.6"/>
<line x1="122.3" y1="763.6" x2="129.3" y2="763.6" stroke="#222" stroke-width="1.6"/>
<line x1="122.3" y1="794.8" x2="129.3" y2="794.8" stroke="#222" stroke-width="1.6"/>
<line x1="215.3" y1="651.1" x2="215.3" y2="697.3" stroke="#222" stroke-width="1.6"/>
<line x1="211.8" y1="651.1" x2="218.8" y2="651.1" stroke="#222" stroke-width="1.6"/>
<line x1="211.8" y1="697.3" x2="218.8" y2="697.3" stroke="#222" stroke-width="1.6"/>
<line x1="215.3" y1="685.0" x2="215.3" y2="697.3" stroke="#222" stroke-width="1.6"/>
<line x1="211.8" y1="685.0" x2="218.8" y2="685.0" stroke="#222" stroke-width="1.6"/>
<line x1="211.8" y1="697.3" x2="218.8" y2="697.3" stroke="#222" stroke-width="1.6"/>
<line x1="215.3" y1="725.5" x2="215.3" y2="789.0" stroke="#222" stroke-width="1.6"/>
<line x1="211.8" y1="725.5" x2="218.8" y2="725.5" stroke="#222" stroke-width="1.6"/>
<line x1="211.8" y1="789.0" x2="218.8" y2="789.0" stroke="#222" stroke-width="1.6"/>
<line x1="215.3" y1="760.0" x2="215.3" y2="775.6" stroke="#222" stroke-width="1.6"/>
<line x1="211.8" y1="760.0" x2="218.8" y2="760.0" stroke="#222" stroke-width="1.6"/>
<line x1="211.8" y1="775.6" x2="218.8" y2="775.6" stroke="#222" stroke-width="1.6"/>
<line x1="305.4" y1="745.0" x2="305.4" y2="771.0" stroke="#222" stroke-width="1.6"/>
<line x1="301.9" y1="745.0" x2="308.9" y2="745.0" stroke="#222" stroke-width="1.6"/>
<line x1="301.9" y1="771.0" x2="308.9" y2="771.0" stroke="#222" stroke-width="1.6"/>
<rect x="120.1" y="701.4" width="11.4" height="11.4" rx="1.5" fill="#d5706c" stroke="#c0504d" stroke-width="0.8"/>
<rect x="209.6" y="667.9" width="11.4" height="11.4" rx="1.5" fill="#d5706c" stroke="#c0504d" stroke-width="0.8"/>
<rect x="299.7" y="751.9" width="11.4" height="11.4" rx="1.5" fill="#d5706c" stroke="#c0504d" stroke-width="0.8"/>
<rect x="388.9" y="804.1" width="11.4" height="11.4" rx="1.5" fill="#d5706c" stroke="#c0504d" stroke-width="0.8"/>
<polygon points="119.7,784.6 125.8,774.8 131.9,784.6" fill="#c3d583" stroke="#a6bd5e" stroke-width="0.8"/>
<polygon points="209.2,762.5 215.3,752.7 221.4,762.5" fill="#c3d583" stroke="#a6bd5e" stroke-width="0.8"/>
<polygon points="299.3,830.8 305.4,821.0 311.5,830.8" fill="#c3d583" stroke="#a6bd5e" stroke-width="0.8"/>
<polygon points="388.5,832.1 394.6,822.3 400.7,832.1" fill="#c3d583" stroke="#a6bd5e" stroke-width="0.8"/>
<line x1="120.8" y1="668.6" x2="130.8" y2="678.6" stroke="#8b72b6" stroke-width="1.8"/>
<line x1="120.8" y1="678.6" x2="130.8" y2="668.6" stroke="#8b72b6" stroke-width="1.8"/>
<line x1="210.3" y1="684.1" x2="220.3" y2="694.1" stroke="#8b72b6" stroke-width="1.8"/>
<line x1="210.3" y1="694.1" x2="220.3" y2="684.1" stroke="#8b72b6" stroke-width="1.8"/>
<line x1="300.4" y1="756.7" x2="310.4" y2="766.7" stroke="#8b72b6" stroke-width="1.8"/>
<line x1="300.4" y1="766.7" x2="310.4" y2="756.7" stroke="#8b72b6" stroke-width="1.8"/>
<line x1="389.6" y1="810.0" x2="399.6" y2="820.0" stroke="#8b72b6" stroke-width="1.8"/>
<line x1="389.6" y1="820.0" x2="399.6" y2="810.0" stroke="#8b72b6" stroke-width="1.8"/>
<line x1="120.8" y1="766.0" x2="130.8" y2="776.0" stroke="#86c4e2" stroke-width="1.6"/>
<line x1="120.8" y1="776.0" x2="130.8" y2="766.0" stroke="#86c4e2" stroke-width="1.6"/>
<line x1="125.8" y1="765.0" x2="125.8" y2="777.0" stroke="#86c4e2" stroke-width="1.6"/>
<line x1="210.3" y1="760.3" x2="220.3" y2="770.3" stroke="#86c4e2" stroke-width="1.6"/>
<line x1="210.3" y1="770.3" x2="220.3" y2="760.3" stroke="#86c4e2" stroke-width="1.6"/>
<line x1="215.3" y1="759.3" x2="215.3" y2="771.3" stroke="#86c4e2" stroke-width="1.6"/>
<line x1="300.4" y1="789.5" x2="310.4" y2="799.5" stroke="#86c4e2" stroke-width="1.6"/>
<line x1="300.4" y1="799.5" x2="310.4" y2="789.5" stroke="#86c4e2" stroke-width="1.6"/>
<line x1="305.4" y1="788.5" x2="305.4" y2="800.5" stroke="#86c4e2" stroke-width="1.6"/>
<line x1="389.6" y1="802.8" x2="399.6" y2="812.8" stroke="#86c4e2" stroke-width="1.6"/>
<line x1="389.6" y1="812.8" x2="399.6" y2="802.8" stroke="#86c4e2" stroke-width="1.6"/>
<line x1="394.6" y1="801.8" x2="394.6" y2="813.8" stroke="#86c4e2" stroke-width="1.6"/>
<line x1="330.2" y1="642.6" x2="351.6" y2="642.6" stroke="#5784c8" stroke-width="2.6"/>
<polygon points="336.5,642.6 340.6,638.5 344.7,642.6 340.6,646.7" fill="#80a6e4" stroke="#5784c8" stroke-width="0.8"/>
<text x="352.7" y="647.9" font-size="14" fill="#1c1c1c" stroke="#1c1c1c" stroke-width="0.3">Arginine</text>
<line x1="330.2" y1="665.5" x2="351.6" y2="665.5" stroke="#c0504d" stroke-width="2.6"/>
<rect x="336.3" y="661.2" width="8.6" height="8.6" rx="1.5" fill="#d5706c" stroke="#c0504d" stroke-width="0.8"/>
<text x="352.7" y="670.8" font-size="14" fill="#1c1c1c" stroke="#1c1c1c" stroke-width="0.3">Glutamate</text>
<line x1="330.2" y1="690.0" x2="351.6" y2="690.0" stroke="#a6bd5e" stroke-width="2.6"/>
<polygon points="336.0,693.4 340.6,686.1 345.2,693.4" fill="#c3d583" stroke="#a6bd5e" stroke-width="0.8"/>
<text x="352.7" y="695.3" font-size="14" fill="#1c1c1c" stroke="#1c1c1c" stroke-width="0.3">Glutamine</text>
<line x1="330.2" y1="716.3" x2="351.6" y2="716.3" stroke="#7f62a8" stroke-width="2.6"/>
<line x1="336.9" y1="712.5" x2="344.4" y2="720.0" stroke="#8b72b6" stroke-width="1.8"/>
<line x1="336.9" y1="720.0" x2="344.4" y2="712.5" stroke="#8b72b6" stroke-width="1.8"/>
<text x="352.7" y="721.6" font-size="14" fill="#1c1c1c" stroke="#1c1c1c" stroke-width="0.3">Histidine</text>
<line x1="330.2" y1="740.8" x2="351.6" y2="740.8" stroke="#5aaad2" stroke-width="2.6"/>
<line x1="336.9" y1="737.0" x2="344.4" y2="744.5" stroke="#86c4e2" stroke-width="1.6"/>
<line x1="336.9" y1="744.5" x2="344.4" y2="737.0" stroke="#86c4e2" stroke-width="1.6"/>
<line x1="340.6" y1="736.0" x2="340.6" y2="745.5" stroke="#86c4e2" stroke-width="1.6"/>
<text x="352.7" y="746.1" font-size="14" fill="#1c1c1c" stroke="#1c1c1c" stroke-width="0.3">Tyrosine</text>
<text x="531.5" y="614.8" font-size="25" fill="#1c1c1c" stroke="#1c1c1c" stroke-width="0.3">E</text>
<line x1="639.2" y1="623.5" x2="639.2" y2="828.3" stroke="#8c8c8c" stroke-width="1.1"/>
<line x1="634.2" y1="828.3" x2="639.2" y2="828.3" stroke="#8c8c8c" stroke-width="1.1"/>
<text x="619.2" y="835.1" font-size="16.3" text-anchor="end" fill="#1c1c1c" stroke="#1c1c1c" stroke-width="0.3">0.0</text>
<line x1="634.2" y1="794.2" x2="639.2" y2="794.2" stroke="#8c8c8c" stroke-width="1.1"/>
<text x="619.2" y="801.0" font-size="16.3" text-anchor="end" fill="#1c1c1c" stroke="#1c1c1c" stroke-width="0.3">0.5</text>
<line x1="634.2" y1="760.0" x2="639.2" y2="760.0" stroke="#8c8c8c" stroke-width="1.1"/>
<text x="619.2" y="766.8" font-size="16.3" text-anchor="end" fill="#1c1c1c" stroke="#1c1c1c" stroke-width="0.3">1.0</text>
<line x1="634.2" y1="725.9" x2="639.2" y2="725.9" stroke="#8c8c8c" stroke-width="1.1"/>
<text x="619.2" y="732.7" font-size="16.3" text-anchor="end" fill="#1c1c1c" stroke="#1c1c1c" stroke-width="0.3">1.5</text>
<line x1="634.2" y1="691.8" x2="639.2" y2="691.8" stroke="#8c8c8c" stroke-width="1.1"/>
<text x="619.2" y="698.6" font-size="16.3" text-anchor="end" fill="#1c1c1c" stroke="#1c1c1c" stroke-width="0.3">2.0</text>
<line x1="634.2" y1="657.6" x2="639.2" y2="657.6" stroke="#8c8c8c" stroke-width="1.1"/>
<text x="619.2" y="664.4" font-size="16.3" text-anchor="end" fill="#1c1c1c" stroke="#1c1c1c" stroke-width="0.3">2.5</text>
<line x1="634.2" y1="623.5" x2="639.2" y2="623.5" stroke="#8c8c8c" stroke-width="1.1"/>
<text x="619.2" y="630.3" font-size="16.3" text-anchor="end" fill="#1c1c1c" stroke="#1c1c1c" stroke-width="0.3">3.0</text>
<line x1="639.2" y1="828.3" x2="1004.5" y2="828.3" stroke="#8c8c8c" stroke-width="1.1"/>
<line x1="639.2" y1="828.3" x2="639.2" y2="833.0" stroke="#8c8c8c" stroke-width="1.1"/>
<line x1="730.3" y1="828.3" x2="730.3" y2="833.0" stroke="#8c8c8c" stroke-width="1.1"/>
<line x1="822.5" y1="828.3" x2="822.5" y2="833.0" stroke="#8c8c8c" stroke-width="1.1"/>
<line x1="913.5" y1="828.3" x2="913.5" y2="833.0" stroke="#8c8c8c" stroke-width="1.1"/>
<line x1="1004.3" y1="828.3" x2="1004.3" y2="833.0" stroke="#8c8c8c" stroke-width="1.1"/>
<text x="683.6" y="854.0" font-size="16" text-anchor="middle" fill="#1c1c1c" stroke="#1c1c1c" stroke-width="0.3">0</text>
<text x="776.2" y="854.0" font-size="16" text-anchor="middle" fill="#1c1c1c" stroke="#1c1c1c" stroke-width="0.3">15</text>
<text x="867.6" y="854.0" font-size="16" text-anchor="middle" fill="#1c1c1c" stroke="#1c1c1c" stroke-width="0.3">30</text>
<text x="958.7" y="854.0" font-size="16" text-anchor="middle" fill="#1c1c1c" stroke="#1c1c1c" stroke-width="0.3">60</text>
<text x="821.6" y="879.4" font-size="14.4" text-anchor="middle" fill="#1c1c1c" stroke="#1c1c1c" stroke-width="0.3">Time after N-starvation (min)</text>
<text x="0.0" y="0.0" font-size="14.2" text-anchor="middle" fill="#1c1c1c" stroke="#1c1c1c" stroke-width="0.3" transform="translate(579,719.4) rotate(-90)">Normalized peak area</text>
<polyline points="683.6,794.6 776.2,769.4 867.6,762.1 958.7,753.8" stroke="#a6bd5e" stroke-width="3.4" fill="none" stroke-linejoin="round"/>
<polyline points="683.6,776.2 776.2,747.3 867.6,732.1 958.7,718.8" stroke="#c0504d" stroke-width="3.4" fill="none" stroke-linejoin="round"/>
<polyline points="683.6,759.2 776.2,724.9 867.6,702.5 958.7,684.4" stroke="#5784c8" stroke-width="3.4" fill="none" stroke-linejoin="round"/>
<line x1="683.6" y1="749.1" x2="683.6" y2="769.0" stroke="#222" stroke-width="1.6"/>
<line x1="680.1" y1="749.1" x2="687.1" y2="749.1" stroke="#222" stroke-width="1.6"/>
<line x1="680.1" y1="769.0" x2="687.1" y2="769.0" stroke="#222" stroke-width="1.6"/>
<line x1="683.6" y1="788.1" x2="683.6" y2="800.5" stroke="#222" stroke-width="1.6"/>
<line x1="680.1" y1="788.1" x2="687.1" y2="788.1" stroke="#222" stroke-width="1.6"/>
<line x1="680.1" y1="800.5" x2="687.1" y2="800.5" stroke="#222" stroke-width="1.6"/>
<line x1="776.2" y1="717.0" x2="776.2" y2="729.6" stroke="#222" stroke-width="1.6"/>
<line x1="772.7" y1="717.0" x2="779.7" y2="717.0" stroke="#222" stroke-width="1.6"/>
<line x1="772.7" y1="729.6" x2="779.7" y2="729.6" stroke="#222" stroke-width="1.6"/>
<line x1="776.2" y1="764.7" x2="776.2" y2="774.0" stroke="#222" stroke-width="1.6"/>
<line x1="772.7" y1="764.7" x2="779.7" y2="764.7" stroke="#222" stroke-width="1.6"/>
<line x1="772.7" y1="774.0" x2="779.7" y2="774.0" stroke="#222" stroke-width="1.6"/>
<line x1="867.6" y1="683.4" x2="867.6" y2="720.2" stroke="#222" stroke-width="1.6"/>
<line x1="864.1" y1="683.4" x2="871.1" y2="683.4" stroke="#222" stroke-width="1.6"/>
<line x1="864.1" y1="720.2" x2="871.1" y2="720.2" stroke="#222" stroke-width="1.6"/>
<line x1="867.6" y1="723.1" x2="867.6" y2="744.1" stroke="#222" stroke-width="1.6"/>
<line x1="864.1" y1="723.1" x2="871.1" y2="723.1" stroke="#222" stroke-width="1.6"/>
<line x1="864.1" y1="744.1" x2="871.1" y2="744.1" stroke="#222" stroke-width="1.6"/>
<line x1="867.6" y1="756.7" x2="867.6" y2="767.5" stroke="#222" stroke-width="1.6"/>
<line x1="864.1" y1="756.7" x2="871.1" y2="756.7" stroke="#222" stroke-width="1.6"/>
<line x1="864.1" y1="767.5" x2="871.1" y2="767.5" stroke="#222" stroke-width="1.6"/>
<line x1="958.7" y1="657.0" x2="958.7" y2="712.0" stroke="#222" stroke-width="1.6"/>
<line x1="955.2" y1="657.0" x2="962.2" y2="657.0" stroke="#222" stroke-width="1.6"/>
<line x1="955.2" y1="712.0" x2="962.2" y2="712.0" stroke="#222" stroke-width="1.6"/>
<line x1="958.7" y1="696.0" x2="958.7" y2="740.1" stroke="#222" stroke-width="1.6"/>
<line x1="955.2" y1="696.0" x2="962.2" y2="696.0" stroke="#222" stroke-width="1.6"/>
<line x1="955.2" y1="740.1" x2="962.2" y2="740.1" stroke="#222" stroke-width="1.6"/>
<line x1="958.7" y1="740.1" x2="958.7" y2="765.7" stroke="#222" stroke-width="1.6"/>
<line x1="955.2" y1="740.1" x2="962.2" y2="740.1" stroke="#222" stroke-width="1.6"/>
<line x1="955.2" y1="765.7" x2="962.2" y2="765.7" stroke="#222" stroke-width="1.6"/>
<polygon points="677.5,799.2 683.6,789.4 689.7,799.2" fill="#c3d583" stroke="#a6bd5e" stroke-width="0.8"/>
<polygon points="770.1,774.0 776.2,764.2 782.3,774.0" fill="#c3d583" stroke="#a6bd5e" stroke-width="0.8"/>
<polygon points="861.5,766.7 867.6,756.9 873.7,766.7" fill="#c3d583" stroke="#a6bd5e" stroke-width="0.8"/>
<polygon points="952.6,758.4 958.7,748.6 964.8,758.4" fill="#c3d583" stroke="#a6bd5e" stroke-width="0.8"/>
<rect x="677.9" y="770.5" width="11.4" height="11.4" rx="1.5" fill="#d5706c" stroke="#c0504d" stroke-width="0.8"/>
<rect x="770.5" y="741.6" width="11.4" height="11.4" rx="1.5" fill="#d5706c" stroke="#c0504d" stroke-width="0.8"/>
<rect x="861.9" y="726.4" width="11.4" height="11.4" rx="1.5" fill="#d5706c" stroke="#c0504d" stroke-width="0.8"/>
<rect x="953.0" y="713.1" width="11.4" height="11.4" rx="1.5" fill="#d5706c" stroke="#c0504d" stroke-width="0.8"/>
<polygon points="678.1,759.2 683.6,753.7 689.1,759.2 683.6,764.7" fill="#80a6e4" stroke="#5784c8" stroke-width="0.8"/>
<polygon points="770.7,724.9 776.2,719.4 781.7,724.9 776.2,730.4" fill="#80a6e4" stroke="#5784c8" stroke-width="0.8"/>
<polygon points="862.1,702.5 867.6,697.0 873.1,702.5 867.6,708.0" fill="#80a6e4" stroke="#5784c8" stroke-width="0.8"/>
<polygon points="953.2,684.4 958.7,678.9 964.2,684.4 958.7,689.9" fill="#80a6e4" stroke="#5784c8" stroke-width="0.8"/>
<line x1="652.7" y1="621.0" x2="677.3" y2="621.0" stroke="#5784c8" stroke-width="2.8"/>
<polygon points="660.3,621.0 665.0,616.3 669.7,621.0 665.0,625.7" fill="#80a6e4" stroke="#5784c8" stroke-width="0.8"/>
<text x="679.3" y="627.3" font-size="16.5" fill="#1c1c1c" stroke="#1c1c1c" stroke-width="0.3">Dimethyl-arginine</text>
<line x1="652.7" y1="644.1" x2="677.3" y2="644.1" stroke="#c0504d" stroke-width="2.8"/>
<rect x="660.2" y="639.3" width="9.7" height="9.7" rx="1.5" fill="#d5706c" stroke="#c0504d" stroke-width="0.8"/>
<text x="679.3" y="650.4" font-size="16.5" fill="#1c1c1c" stroke="#1c1c1c" stroke-width="0.3">Dimethyl lysine</text>
<line x1="652.7" y1="667.5" x2="677.3" y2="667.5" stroke="#a6bd5e" stroke-width="2.8"/>
<polygon points="659.8,671.4 665.0,663.1 670.2,671.4" fill="#c3d583" stroke="#a6bd5e" stroke-width="0.8"/>
<text x="679.3" y="673.8" font-size="16.5" fill="#1c1c1c" stroke="#1c1c1c" stroke-width="0.3">Trimethyl lysine</text>
<text x="7.5" y="931.5" font-size="25" fill="#1c1c1c" stroke="#1c1c1c" stroke-width="0.3">F</text>
<line x1="82.2" y1="944.1" x2="82.2" y2="1152.5" stroke="#8c8c8c" stroke-width="1.1"/>
<line x1="77.2" y1="1152.5" x2="82.2" y2="1152.5" stroke="#8c8c8c" stroke-width="1.1"/>
<text x="63.0" y="1159.5" font-size="16.4" text-anchor="end" fill="#1c1c1c" stroke="#1c1c1c" stroke-width="0.3">0.0</text>
<line x1="77.2" y1="1117.8" x2="82.2" y2="1117.8" stroke="#8c8c8c" stroke-width="1.1"/>
<text x="63.0" y="1124.8" font-size="16.4" text-anchor="end" fill="#1c1c1c" stroke="#1c1c1c" stroke-width="0.3">2.0</text>
<line x1="77.2" y1="1083.1" x2="82.2" y2="1083.1" stroke="#8c8c8c" stroke-width="1.1"/>
<text x="63.0" y="1090.1" font-size="16.4" text-anchor="end" fill="#1c1c1c" stroke="#1c1c1c" stroke-width="0.3">4.0</text>
<line x1="77.2" y1="1048.4" x2="82.2" y2="1048.4" stroke="#8c8c8c" stroke-width="1.1"/>
<text x="63.0" y="1055.4" font-size="16.4" text-anchor="end" fill="#1c1c1c" stroke="#1c1c1c" stroke-width="0.3">6.0</text>
<line x1="77.2" y1="1013.7" x2="82.2" y2="1013.7" stroke="#8c8c8c" stroke-width="1.1"/>
<text x="63.0" y="1020.7" font-size="16.4" text-anchor="end" fill="#1c1c1c" stroke="#1c1c1c" stroke-width="0.3">8.0</text>
<line x1="77.2" y1="979.0" x2="82.2" y2="979.0" stroke="#8c8c8c" stroke-width="1.1"/>
<text x="63.0" y="986.0" font-size="16.4" text-anchor="end" fill="#1c1c1c" stroke="#1c1c1c" stroke-width="0.3">10.0</text>
<line x1="77.2" y1="944.3" x2="82.2" y2="944.3" stroke="#8c8c8c" stroke-width="1.1"/>
<text x="63.0" y="951.3" font-size="16.4" text-anchor="end" fill="#1c1c1c" stroke="#1c1c1c" stroke-width="0.3">12.0</text>
<line x1="82.2" y1="1152.5" x2="444.9" y2="1152.5" stroke="#8c8c8c" stroke-width="1.1"/>
<line x1="82.2" y1="1152.5" x2="82.2" y2="1157.2" stroke="#8c8c8c" stroke-width="1.1"/>
<line x1="172.1" y1="1152.5" x2="172.1" y2="1157.2" stroke="#8c8c8c" stroke-width="1.1"/>
<line x1="263.5" y1="1152.5" x2="263.5" y2="1157.2" stroke="#8c8c8c" stroke-width="1.1"/>
<line x1="353.9" y1="1152.5" x2="353.9" y2="1157.2" stroke="#8c8c8c" stroke-width="1.1"/>
<line x1="444.9" y1="1152.5" x2="444.9" y2="1157.2" stroke="#8c8c8c" stroke-width="1.1"/>
<text x="127.2" y="1182.0" font-size="16" text-anchor="middle" fill="#1c1c1c" stroke="#1c1c1c" stroke-width="0.3">0</text>
<text x="217.8" y="1182.0" font-size="16" text-anchor="middle" fill="#1c1c1c" stroke="#1c1c1c" stroke-width="0.3">15</text>
<text x="309.2" y="1182.0" font-size="16" text-anchor="middle" fill="#1c1c1c" stroke="#1c1c1c" stroke-width="0.3">30</text>
<text x="399.6" y="1182.0" font-size="16" text-anchor="middle" fill="#1c1c1c" stroke="#1c1c1c" stroke-width="0.3">60</text>
<text x="266.3" y="1209.1" font-size="14.4" text-anchor="middle" fill="#1c1c1c" stroke="#1c1c1c" stroke-width="0.3">Time after N-starvation (min)</text>
<text x="0.0" y="0.0" font-size="14.3" text-anchor="middle" fill="#1c1c1c" stroke="#1c1c1c" stroke-width="0.3" transform="translate(18.2,1044.4) rotate(-90)">Normalized peak area</text>
<text x="174.7" y="1061.5" font-size="11.8" fill="#1c1c1c" stroke="#1c1c1c" stroke-width="0.3">O</text>
<line x1="178.2" y1="1072.7" x2="178.2" y2="1062.3" stroke="#2b2b2b" stroke-width="0.9"/>
<line x1="180.4" y1="1072.7" x2="180.4" y2="1062.3" stroke="#2b2b2b" stroke-width="0.9"/>
<text x="150.9" y="1085.0" font-size="11.8" fill="#1c1c1c" stroke="#1c1c1c" stroke-width="0.3">HO</text>
<line x1="168.4" y1="1078.5" x2="179.3" y2="1072.7" stroke="#2b2b2b" stroke-width="1.0"/>
<line x1="179.3" y1="1072.7" x2="192.0" y2="1079.3" stroke="#2b2b2b" stroke-width="1.0"/>
<polygon points="192.0,1079.3 190.6,1091.1 193.4,1091.1" fill="#2b2b2b" stroke="none" stroke-width="1"/>
<text x="187.7" y="1100.3" font-size="11.8" fill="#1c1c1c" stroke="#1c1c1c" stroke-width="0.3">N</text>
<text x="195.5" y="1094.6" font-size="8" fill="#1c1c1c" stroke="#1c1c1c" stroke-width="0.3">+</text>
<line x1="188.0" y1="1098.1" x2="178.8" y2="1102.7" stroke="#2b2b2b" stroke-width="1.0"/>
<line x1="196.0" y1="1098.1" x2="205.2" y2="1102.7" stroke="#2b2b2b" stroke-width="1.0"/>
<line x1="192.0" y1="1101.6" x2="192.0" y2="1110.5" stroke="#2b2b2b" stroke-width="1.0"/>
<line x1="192.0" y1="1079.3" x2="205.9" y2="1072.0" stroke="#2b2b2b" stroke-width="1.0"/>
<line x1="205.9" y1="1072.0" x2="219.1" y2="1080.0" stroke="#2b2b2b" stroke-width="1.0"/>
<line x1="219.1" y1="1080.0" x2="239.0" y2="1080.0" stroke="#2b2b2b" stroke-width="1.0"/>
<line x1="245.2" y1="1084.9" x2="247.7" y2="1095.4" stroke="#2b2b2b" stroke-width="0.9"/>
<line x1="247.9" y1="1085.8" x2="249.7" y2="1093.4" stroke="#2b2b2b" stroke-width="0.9"/>
<line x1="247.7" y1="1095.4" x2="237.0" y2="1098.9" stroke="#2b2b2b" stroke-width="1.0"/>
<line x1="227.8" y1="1098.3" x2="219.1" y2="1094.0" stroke="#2b2b2b" stroke-width="1.0"/>
<line x1="219.1" y1="1094.0" x2="219.1" y2="1080.0" stroke="#2b2b2b" stroke-width="0.9"/>
<line x1="216.7" y1="1092.5" x2="216.7" y2="1081.5" stroke="#2b2b2b" stroke-width="0.9"/>
<text x="239.7" y="1084.2" font-size="11.8" fill="#1c1c1c" stroke="#1c1c1c" stroke-width="0.3">N</text>
<text x="228.0" y="1104.7" font-size="11.8" fill="#1c1c1c" stroke="#1c1c1c" stroke-width="0.3">N</text>
<text x="228.0" y="1115.7" font-size="11.8" fill="#1c1c1c" stroke="#1c1c1c" stroke-width="0.3">H</text>
<line x1="232.3" y1="1105.5" x2="232.3" y2="1106.5" stroke="#2b2b2b" stroke-width="1.0"/>
<line x1="247.7" y1="1095.4" x2="253.2" y2="1098.9" stroke="#2b2b2b" stroke-width="1.0"/>
<text x="253.1" y="1105.5" font-size="11.8" fill="#1c1c1c" stroke="#1c1c1c" stroke-width="0.3">SH</text>
<line x1="190.5" y1="1114.0" x2="177.4" y2="1138.0" stroke="#8a8a8a" stroke-width="1.4" stroke-dasharray="4,2.5"/>
<text x="431.1" y="1101.0" font-size="11.8" fill="#1c1c1c" stroke="#1c1c1c" stroke-width="0.3">O</text>
<line x1="434.6" y1="1112.2" x2="434.6" y2="1101.8" stroke="#2b2b2b" stroke-width="0.9"/>
<line x1="436.8" y1="1112.2" x2="436.8" y2="1101.8" stroke="#2b2b2b" stroke-width="0.9"/>
<text x="409.4" y="1125.2" font-size="11.8" fill="#1c1c1c" stroke="#1c1c1c" stroke-width="0.3">HO</text>
<line x1="426.7" y1="1118.2" x2="435.7" y2="1112.2" stroke="#2b2b2b" stroke-width="1.0"/>
<line x1="435.7" y1="1112.2" x2="449.3" y2="1119.8" stroke="#2b2b2b" stroke-width="1.0"/>
<polygon points="449.3,1119.8 447.9,1132.1 450.7,1132.1" fill="#2b2b2b" stroke="none" stroke-width="1"/>
<text x="445.0" y="1141.3" font-size="11.8" fill="#1c1c1c" stroke="#1c1c1c" stroke-width="0.3">N</text>
<text x="452.8" y="1135.6" font-size="8" fill="#1c1c1c" stroke="#1c1c1c" stroke-width="0.3">+</text>
<line x1="445.2" y1="1139.0" x2="435.4" y2="1143.7" stroke="#2b2b2b" stroke-width="1.0"/>
<line x1="453.3" y1="1139.1" x2="462.5" y2="1143.7" stroke="#2b2b2b" stroke-width="1.0"/>
<line x1="449.3" y1="1142.6" x2="449.3" y2="1152.0" stroke="#2b2b2b" stroke-width="1.0"/>
<line x1="449.3" y1="1119.8" x2="462.5" y2="1111.5" stroke="#2b2b2b" stroke-width="1.0"/>
<line x1="462.5" y1="1111.5" x2="475.7" y2="1120.3" stroke="#2b2b2b" stroke-width="1.0"/>
<line x1="475.7" y1="1120.3" x2="496.3" y2="1120.3" stroke="#2b2b2b" stroke-width="1.0"/>
<line x1="501.3" y1="1125.3" x2="501.3" y2="1135.7" stroke="#2b2b2b" stroke-width="0.9"/>
<line x1="503.7" y1="1126.8" x2="503.7" y2="1134.2" stroke="#2b2b2b" stroke-width="0.9"/>
<line x1="501.3" y1="1135.7" x2="492.8" y2="1138.5" stroke="#2b2b2b" stroke-width="1.0"/>
<line x1="483.5" y1="1138.1" x2="476.4" y2="1134.9" stroke="#2b2b2b" stroke-width="1.0"/>
<line x1="476.4" y1="1134.9" x2="475.7" y2="1120.3" stroke="#2b2b2b" stroke-width="0.9"/>
<line x1="473.9" y1="1133.5" x2="473.4" y2="1121.9" stroke="#2b2b2b" stroke-width="0.9"/>
<text x="497.0" y="1124.5" font-size="11.8" fill="#1c1c1c" stroke="#1c1c1c" stroke-width="0.3">N</text>
<text x="483.8" y="1144.3" font-size="11.8" fill="#1c1c1c" stroke="#1c1c1c" stroke-width="0.3">N</text>
<text x="483.8" y="1156.0" font-size="11.8" fill="#1c1c1c" stroke="#1c1c1c" stroke-width="0.3">H</text>
<line x1="488.1" y1="1145.1" x2="488.1" y2="1146.8" stroke="#2b2b2b" stroke-width="1.0"/>
<line x1="501.3" y1="1135.7" x2="509.0" y2="1139.5" stroke="#2b2b2b" stroke-width="1.0"/>
<text x="509.1" y="1145.7" font-size="11.8" fill="#1c1c1c" stroke="#1c1c1c" stroke-width="0.3">S</text>
<line x1="516.8" y1="1139.1" x2="525.5" y2="1133.5" stroke="#2b2b2b" stroke-width="1.0"/>
<line x1="427.4" y1="1126.9" x2="403.2" y2="1144.5" stroke="#8a8a8a" stroke-width="1.4" stroke-dasharray="4,2.5"/>
<text x="361.6" y="942.8" font-size="11.8" fill="#1c1c1c" stroke="#1c1c1c" stroke-width="0.3">O</text>
<line x1="365.1" y1="954.3" x2="365.1" y2="943.6" stroke="#2b2b2b" stroke-width="0.9"/>
<line x1="367.3" y1="954.3" x2="367.3" y2="943.6" stroke="#2b2b2b" stroke-width="0.9"/>
<text x="339.4" y="966.0" font-size="11.8" fill="#1c1c1c" stroke="#1c1c1c" stroke-width="0.3">HO</text>
<line x1="356.9" y1="959.4" x2="366.2" y2="954.3" stroke="#2b2b2b" stroke-width="1.0"/>
<line x1="366.2" y1="954.3" x2="379.2" y2="961.2" stroke="#2b2b2b" stroke-width="1.0"/>
<polygon points="379.2,961.2 378.4,970.8 381.2,970.6" fill="#2b2b2b" stroke="none" stroke-width="1"/>
<text x="375.8" y="979.9" font-size="11.8" fill="#1c1c1c" stroke="#1c1c1c" stroke-width="0.3">N</text>
<text x="383.6" y="974.2" font-size="8" fill="#1c1c1c" stroke="#1c1c1c" stroke-width="0.3">+</text>
<line x1="375.8" y1="977.0" x2="364.3" y2="980.3" stroke="#2b2b2b" stroke-width="1.0"/>
<line x1="384.1" y1="977.7" x2="392.5" y2="982.0" stroke="#2b2b2b" stroke-width="1.0"/>
<line x1="379.5" y1="981.2" x2="378.6" y2="990.5" stroke="#2b2b2b" stroke-width="1.0"/>
<line x1="379.2" y1="961.2" x2="392.2" y2="953.4" stroke="#2b2b2b" stroke-width="1.0"/>
<line x1="392.2" y1="953.4" x2="405.2" y2="959.9" stroke="#2b2b2b" stroke-width="1.0"/>
<line x1="405.2" y1="959.9" x2="414.5" y2="956.2" stroke="#2b2b2b" stroke-width="1.0"/>
<line x1="422.6" y1="957.9" x2="428.3" y2="963.6" stroke="#2b2b2b" stroke-width="0.9"/>
<line x1="425.4" y1="957.2" x2="429.0" y2="960.8" stroke="#2b2b2b" stroke-width="0.9"/>
<line x1="428.3" y1="963.6" x2="423.8" y2="973.9" stroke="#2b2b2b" stroke-width="1.0"/>
<line x1="416.9" y1="977.5" x2="407.9" y2="975.7" stroke="#2b2b2b" stroke-width="1.0"/>
<line x1="407.9" y1="975.7" x2="405.2" y2="959.9" stroke="#2b2b2b" stroke-width="0.9"/>
<line x1="405.3" y1="974.6" x2="403.1" y2="961.8" stroke="#2b2b2b" stroke-width="0.9"/>
<text x="414.8" y="958.5" font-size="11.8" fill="#1c1c1c" stroke="#1c1c1c" stroke-width="0.3">N</text>
<text x="417.5" y="982.7" font-size="11.8" fill="#1c1c1c" stroke="#1c1c1c" stroke-width="0.3">N</text>
<text x="425.8" y="982.5" font-size="11.8" fill="#1c1c1c" stroke="#1c1c1c" stroke-width="0.3">H</text>
<line x1="428.3" y1="963.6" x2="438.7" y2="963.6" stroke="#2b2b2b" stroke-width="1.0"/>
<text x="439.3" y="967.8" font-size="11.8" fill="#1c1c1c" stroke="#1c1c1c" stroke-width="0.3">S</text>
<line x1="444.3" y1="968.6" x2="444.3" y2="974.4" stroke="#2b2b2b" stroke-width="0.9"/>
<line x1="442.1" y1="968.6" x2="442.1" y2="974.4" stroke="#2b2b2b" stroke-width="0.9"/>
<text x="438.6" y="983.6" font-size="11.8" fill="#1c1c1c" stroke="#1c1c1c" stroke-width="0.3">O</text>
<line x1="447.2" y1="965.6" x2="458.0" y2="971.0" stroke="#2b2b2b" stroke-width="1.0"/>
<line x1="458.0" y1="971.0" x2="470.1" y2="963.6" stroke="#2b2b2b" stroke-width="1.0"/>
<line x1="470.1" y1="963.6" x2="466.4" y2="955.2" stroke="#2b2b2b" stroke-width="1.0"/>
<text x="453.5" y="953.0" font-size="11.8" fill="#1c1c1c" stroke="#1c1c1c" stroke-width="0.3">H</text>
<text x="461.4" y="955.5" font-size="7.5" fill="#1c1c1c" stroke="#1c1c1c" stroke-width="0.3">2</text>
<text x="465.4" y="953.0" font-size="11.8" fill="#1c1c1c" stroke="#1c1c1c" stroke-width="0.3">N</text>
<line x1="470.1" y1="963.6" x2="484.0" y2="971.0" stroke="#2b2b2b" stroke-width="1.0"/>
<line x1="485.1" y1="971.0" x2="485.1" y2="981.8" stroke="#2b2b2b" stroke-width="0.9"/>
<line x1="482.9" y1="971.0" x2="482.9" y2="981.8" stroke="#2b2b2b" stroke-width="0.9"/>
<text x="479.4" y="991.0" font-size="11.8" fill="#1c1c1c" stroke="#1c1c1c" stroke-width="0.3">O</text>
<line x1="484.0" y1="971.0" x2="492.0" y2="966.6" stroke="#2b2b2b" stroke-width="1.0"/>
<text x="491.4" y="968.7" font-size="11.8" fill="#1c1c1c" stroke="#1c1c1c" stroke-width="0.3">OH</text>
<polyline points="127.2,1143.0 217.8,1133.5 309.2,1118.4 399.6,1101.2" stroke="#5784c8" stroke-width="3.4" fill="none" stroke-linejoin="round"/>
<polyline points="127.2,1148.6 217.8,1148.6 309.2,1138.1 399.6,1006.2" stroke="#c0504d" stroke-width="3.4" fill="none" stroke-linejoin="round"/>
<polyline points="127.2,1152.3 217.8,1152.3 309.2,1152.0 399.6,1148.6" stroke="#a6bd5e" stroke-width="3.4" fill="none" stroke-linejoin="round"/>
<line x1="309.2" y1="1110.6" x2="309.2" y2="1125.4" stroke="#222" stroke-width="1.6"/>
<line x1="305.7" y1="1110.6" x2="312.7" y2="1110.6" stroke="#222" stroke-width="1.6"/>
<line x1="305.7" y1="1125.4" x2="312.7" y2="1125.4" stroke="#222" stroke-width="1.6"/>
<line x1="399.6" y1="1093.8" x2="399.6" y2="1107.8" stroke="#222" stroke-width="1.6"/>
<line x1="396.1" y1="1093.8" x2="403.1" y2="1093.8" stroke="#222" stroke-width="1.6"/>
<line x1="396.1" y1="1107.8" x2="403.1" y2="1107.8" stroke="#222" stroke-width="1.6"/>
<line x1="399.6" y1="985.8" x2="399.6" y2="1027.3" stroke="#222" stroke-width="1.6"/>
<line x1="396.1" y1="985.8" x2="403.1" y2="985.8" stroke="#222" stroke-width="1.6"/>
<line x1="396.1" y1="1027.3" x2="403.1" y2="1027.3" stroke="#222" stroke-width="1.6"/>
<polygon points="121.7,1143.0 127.2,1137.5 132.7,1143.0 127.2,1148.5" fill="#80a6e4" stroke="#5784c8" stroke-width="0.8"/>
<polygon points="212.3,1133.5 217.8,1128.0 223.3,1133.5 217.8,1139.0" fill="#80a6e4" stroke="#5784c8" stroke-width="0.8"/>
<polygon points="303.7,1118.4 309.2,1112.9 314.7,1118.4 309.2,1123.9" fill="#80a6e4" stroke="#5784c8" stroke-width="0.8"/>
<polygon points="394.1,1101.2 399.6,1095.7 405.1,1101.2 399.6,1106.7" fill="#80a6e4" stroke="#5784c8" stroke-width="0.8"/>
<rect x="121.5" y="1142.9" width="11.4" height="11.4" rx="1.5" fill="#d5706c" stroke="#c0504d" stroke-width="0.8"/>
<rect x="212.1" y="1142.9" width="11.4" height="11.4" rx="1.5" fill="#d5706c" stroke="#c0504d" stroke-width="0.8"/>
<rect x="303.5" y="1132.4" width="11.4" height="11.4" rx="1.5" fill="#d5706c" stroke="#c0504d" stroke-width="0.8"/>
<rect x="393.9" y="1000.5" width="11.4" height="11.4" rx="1.5" fill="#d5706c" stroke="#c0504d" stroke-width="0.8"/>
<polygon points="121.1,1156.9 127.2,1147.1 133.3,1156.9" fill="#c3d583" stroke="#a6bd5e" stroke-width="0.8"/>
<polygon points="211.7,1156.9 217.8,1147.1 223.9,1156.9" fill="#c3d583" stroke="#a6bd5e" stroke-width="0.8"/>
<polygon points="303.1,1156.6 309.2,1146.8 315.3,1156.6" fill="#c3d583" stroke="#a6bd5e" stroke-width="0.8"/>
<polygon points="393.5,1153.2 399.6,1143.4 405.7,1153.2" fill="#c3d583" stroke="#a6bd5e" stroke-width="0.8"/>
<line x1="107.1" y1="943.4" x2="133.5" y2="943.4" stroke="#5784c8" stroke-width="2.8"/>
<polygon points="115.1,943.4 119.8,938.7 124.5,943.4 119.8,948.1" fill="#80a6e4" stroke="#5784c8" stroke-width="0.8"/>
<text x="134.4" y="950.6" font-size="16.9" fill="#1c1c1c" stroke="#1c1c1c" stroke-width="0.3">Ergothioneine</text>
<line x1="107.1" y1="973.9" x2="133.5" y2="973.9" stroke="#c0504d" stroke-width="2.8"/>
<rect x="115.0" y="969.1" width="9.7" height="9.7" rx="1.5" fill="#d5706c" stroke="#c0504d" stroke-width="0.8"/>
<text x="134.4" y="981.1" font-size="16.9" fill="#1c1c1c" stroke="#1c1c1c" stroke-width="0.3">Hercynylcysteine sulfoxide</text>
<line x1="107.1" y1="1003.2" x2="133.5" y2="1003.2" stroke="#a6bd5e" stroke-width="2.8"/>
<polygon points="114.6,1007.1 119.8,998.8 125.0,1007.1" fill="#c3d583" stroke="#a6bd5e" stroke-width="0.8"/>
<text x="134.4" y="1010.4" font-size="16.9" fill="#1c1c1c" stroke="#1c1c1c" stroke-width="0.3">S-Methyl-ergothioneine</text>
<text x="524.5" y="932.0" font-size="25" fill="#1c1c1c" stroke="#1c1c1c" stroke-width="0.3">G</text>
<line x1="649.2" y1="944.7" x2="649.2" y2="1152.1" stroke="#8c8c8c" stroke-width="1.1"/>
<line x1="644.2" y1="1152.1" x2="649.2" y2="1152.1" stroke="#8c8c8c" stroke-width="1.1"/>
<text x="629.1" y="1159.1" font-size="16.1" text-anchor="end" fill="#1c1c1c" stroke="#1c1c1c" stroke-width="0.3">0.0</text>
<line x1="644.2" y1="1110.6" x2="649.2" y2="1110.6" stroke="#8c8c8c" stroke-width="1.1"/>
<text x="629.1" y="1117.6" font-size="16.1" text-anchor="end" fill="#1c1c1c" stroke="#1c1c1c" stroke-width="0.3">20.0</text>
<line x1="644.2" y1="1069.1" x2="649.2" y2="1069.1" stroke="#8c8c8c" stroke-width="1.1"/>
<text x="629.1" y="1076.1" font-size="16.1" text-anchor="end" fill="#1c1c1c" stroke="#1c1c1c" stroke-width="0.3">40.0</text>
<line x1="644.2" y1="1027.7" x2="649.2" y2="1027.7" stroke="#8c8c8c" stroke-width="1.1"/>
<text x="629.1" y="1034.7" font-size="16.1" text-anchor="end" fill="#1c1c1c" stroke="#1c1c1c" stroke-width="0.3">60.0</text>
<line x1="644.2" y1="986.2" x2="649.2" y2="986.2" stroke="#8c8c8c" stroke-width="1.1"/>
<text x="629.1" y="993.2" font-size="16.1" text-anchor="end" fill="#1c1c1c" stroke="#1c1c1c" stroke-width="0.3">80.0</text>
<line x1="644.2" y1="944.7" x2="649.2" y2="944.7" stroke="#8c8c8c" stroke-width="1.1"/>
<text x="629.1" y="951.7" font-size="16.1" text-anchor="end" fill="#1c1c1c" stroke="#1c1c1c" stroke-width="0.3">100.0</text>
<line x1="649.2" y1="1152.1" x2="1000.8" y2="1152.1" stroke="#8c8c8c" stroke-width="1.1"/>
<line x1="649.2" y1="1152.1" x2="649.2" y2="1156.8" stroke="#8c8c8c" stroke-width="1.1"/>
<line x1="737.1" y1="1152.1" x2="737.1" y2="1156.8" stroke="#8c8c8c" stroke-width="1.1"/>
<line x1="825.9" y1="1152.1" x2="825.9" y2="1156.8" stroke="#8c8c8c" stroke-width="1.1"/>
<line x1="913.8" y1="1152.1" x2="913.8" y2="1156.8" stroke="#8c8c8c" stroke-width="1.1"/>
<line x1="1000.8" y1="1152.1" x2="1000.8" y2="1156.8" stroke="#8c8c8c" stroke-width="1.1"/>
<text x="693.2" y="1179.5" font-size="16" text-anchor="middle" fill="#1c1c1c" stroke="#1c1c1c" stroke-width="0.3">0</text>
<text x="781.0" y="1179.5" font-size="16" text-anchor="middle" fill="#1c1c1c" stroke="#1c1c1c" stroke-width="0.3">15</text>
<text x="869.8" y="1179.5" font-size="16" text-anchor="middle" fill="#1c1c1c" stroke="#1c1c1c" stroke-width="0.3">30</text>
<text x="956.8" y="1179.5" font-size="16" text-anchor="middle" fill="#1c1c1c" stroke="#1c1c1c" stroke-width="0.3">60</text>
<text x="823.0" y="1207.3" font-size="14.4" text-anchor="middle" fill="#1c1c1c" stroke="#1c1c1c" stroke-width="0.3">Time after N-starvation (min)</text>
<text x="0.0" y="0.0" font-size="14.3" text-anchor="middle" fill="#1c1c1c" stroke="#1c1c1c" stroke-width="0.3" transform="translate(576.5,1045) rotate(-90)">Normalized peak area</text>
<polyline points="693.2,1104.3 781.0,1114.0 869.8,1128.5 956.8,1147.0" stroke="#c0504d" stroke-width="3.4" fill="none" stroke-linejoin="round"/>
<polyline points="693.2,1019.5 781.0,1019.5 869.8,993.2 956.8,1005.5" stroke="#5784c8" stroke-width="3.4" fill="none" stroke-linejoin="round"/>
<line x1="693.2" y1="996.7" x2="693.2" y2="1041.5" stroke="#222" stroke-width="1.6"/>
<line x1="689.7" y1="996.7" x2="696.7" y2="996.7" stroke="#222" stroke-width="1.6"/>
<line x1="689.7" y1="1041.5" x2="696.7" y2="1041.5" stroke="#222" stroke-width="1.6"/>
<line x1="781.0" y1="1006.3" x2="781.0" y2="1033.2" stroke="#222" stroke-width="1.6"/>
<line x1="777.5" y1="1006.3" x2="784.5" y2="1006.3" stroke="#222" stroke-width="1.6"/>
<line x1="777.5" y1="1033.2" x2="784.5" y2="1033.2" stroke="#222" stroke-width="1.6"/>
<line x1="869.8" y1="961.5" x2="869.8" y2="1025.2" stroke="#222" stroke-width="1.6"/>
<line x1="866.3" y1="961.5" x2="873.3" y2="961.5" stroke="#222" stroke-width="1.6"/>
<line x1="866.3" y1="1025.2" x2="873.3" y2="1025.2" stroke="#222" stroke-width="1.6"/>
<line x1="956.8" y1="974.7" x2="956.8" y2="1035.3" stroke="#222" stroke-width="1.6"/>
<line x1="953.3" y1="974.7" x2="960.3" y2="974.7" stroke="#222" stroke-width="1.6"/>
<line x1="953.3" y1="1035.3" x2="960.3" y2="1035.3" stroke="#222" stroke-width="1.6"/>
<rect x="687.5" y="1098.6" width="11.4" height="11.4" rx="1.5" fill="#d5706c" stroke="#c0504d" stroke-width="0.8"/>
<rect x="775.3" y="1108.3" width="11.4" height="11.4" rx="1.5" fill="#d5706c" stroke="#c0504d" stroke-width="0.8"/>
<rect x="864.1" y="1122.8" width="11.4" height="11.4" rx="1.5" fill="#d5706c" stroke="#c0504d" stroke-width="0.8"/>
<rect x="951.1" y="1141.3" width="11.4" height="11.4" rx="1.5" fill="#d5706c" stroke="#c0504d" stroke-width="0.8"/>
<polygon points="687.7,1019.5 693.2,1014.0 698.7,1019.5 693.2,1025.0" fill="#80a6e4" stroke="#5784c8" stroke-width="0.8"/>
<polygon points="775.5,1019.5 781.0,1014.0 786.5,1019.5 781.0,1025.0" fill="#80a6e4" stroke="#5784c8" stroke-width="0.8"/>
<polygon points="864.3,993.2 869.8,987.7 875.3,993.2 869.8,998.7" fill="#80a6e4" stroke="#5784c8" stroke-width="0.8"/>
<polygon points="951.3,1005.5 956.8,1000.0 962.3,1005.5 956.8,1011.0" fill="#80a6e4" stroke="#5784c8" stroke-width="0.8"/>
<line x1="684.4" y1="942.6" x2="711.6" y2="942.6" stroke="#5784c8" stroke-width="2.8"/>
<polygon points="692.4,942.6 697.1,937.9 701.8,942.6 697.1,947.3" fill="#80a6e4" stroke="#5784c8" stroke-width="0.8"/>
<text x="711.6" y="949.2" font-size="16.9" fill="#1c1c1c" stroke="#1c1c1c" stroke-width="0.3">Glutathione disulfide (GSSG)</text>
<line x1="684.4" y1="964.6" x2="711.6" y2="964.6" stroke="#c0504d" stroke-width="2.8"/>
<rect x="692.3" y="959.8" width="9.7" height="9.7" rx="1.5" fill="#d5706c" stroke="#c0504d" stroke-width="0.8"/>
<text x="711.6" y="971.2" font-size="16.9" fill="#1c1c1c" stroke="#1c1c1c" stroke-width="0.3">Ophthalmic acid</text>
</svg></body></html>
